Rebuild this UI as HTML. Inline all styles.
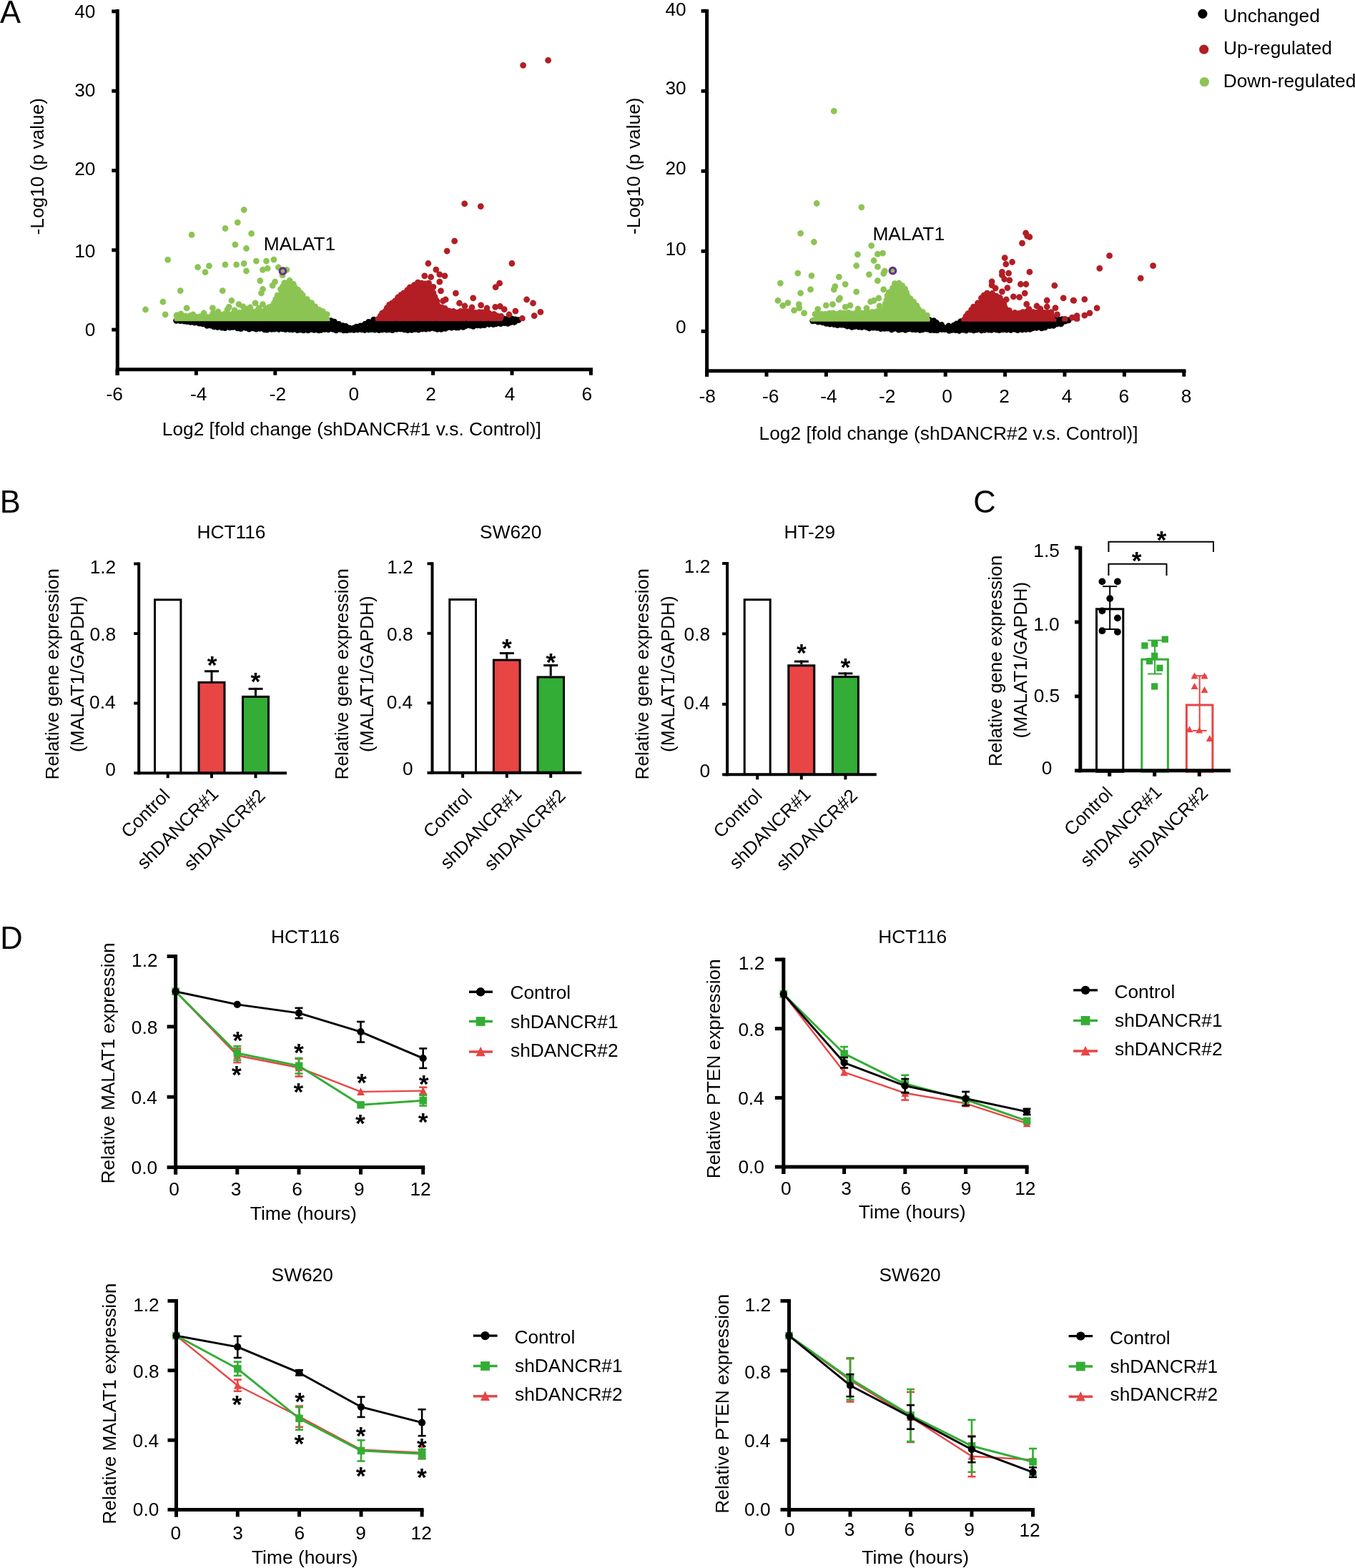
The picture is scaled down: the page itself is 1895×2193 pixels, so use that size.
<!DOCTYPE html>
<html><head><meta charset="utf-8"><title>Figure</title>
<style>
html,body{margin:0;padding:0;background:#fff;}
svg{display:block;}
text{font-family:"Liberation Sans",Arial,Helvetica,sans-serif;font-size:26.3px;fill:#000;}
</style></head><body>
<svg width="1895" height="2193" viewBox="0 0 1895 2193">
<rect width="1895" height="2193" fill="#fff"/>
<text x="-0.1" y="31.9" style="font-size:43.5px">A</text>
<line x1="164.3" y1="13" x2="164.3" y2="524.7" stroke="#000" stroke-width="5"/>
<line x1="161.8" y1="516.7" x2="828.9" y2="516.7" stroke="#000" stroke-width="5"/>
<line x1="156.3" y1="461.1" x2="164.3" y2="461.1" stroke="#000" stroke-width="5"/>
<line x1="156.3" y1="349.8" x2="164.3" y2="349.8" stroke="#000" stroke-width="5"/>
<line x1="156.3" y1="238.5" x2="164.3" y2="238.5" stroke="#000" stroke-width="5"/>
<line x1="156.3" y1="127.2" x2="164.3" y2="127.2" stroke="#000" stroke-width="5"/>
<line x1="156.3" y1="15.9" x2="164.3" y2="15.9" stroke="#000" stroke-width="5"/>
<line x1="164" y1="516.7" x2="164" y2="524.7" stroke="#000" stroke-width="5"/>
<line x1="274.4" y1="516.7" x2="274.4" y2="524.7" stroke="#000" stroke-width="5"/>
<line x1="384.8" y1="516.7" x2="384.8" y2="524.7" stroke="#000" stroke-width="5"/>
<line x1="495.2" y1="516.7" x2="495.2" y2="524.7" stroke="#000" stroke-width="5"/>
<line x1="605.6" y1="516.7" x2="605.6" y2="524.7" stroke="#000" stroke-width="5"/>
<line x1="716" y1="516.7" x2="716" y2="524.7" stroke="#000" stroke-width="5"/>
<line x1="826.4" y1="516.7" x2="826.4" y2="524.7" stroke="#000" stroke-width="5"/>
<text x="104.2" y="25">40</text>
<text x="104.2" y="135.2">30</text>
<text x="104.2" y="245.2">20</text>
<text x="104.2" y="360.2">10</text>
<text x="118.8" y="470.4">0</text>
<text x="148.5" y="560.2">-6</text>
<text x="265.9" y="560.2">-4</text>
<text x="376.8" y="560.4">-2</text>
<text x="487.6" y="560.2">0</text>
<text x="595.2" y="560.4">2</text>
<text x="705.8" y="560.2">4</text>
<text x="813.5" y="560.2">6</text>
<text x="226.8" y="609.3" style="font-size:26.3px">Log2 [fold change (shDANCR#1 v.s. Control)]</text>
<text x="61.3" y="328.4" transform="rotate(-90 61.3 328.4)">-Log10 (p value)</text>
<line x1="988.6" y1="13" x2="988.6" y2="526.7" stroke="#000" stroke-width="5"/>
<line x1="986.1" y1="518.7" x2="1658.5" y2="518.7" stroke="#000" stroke-width="5"/>
<line x1="980.6" y1="463.3" x2="988.6" y2="463.3" stroke="#000" stroke-width="5"/>
<line x1="980.6" y1="351.3" x2="988.6" y2="351.3" stroke="#000" stroke-width="5"/>
<line x1="980.6" y1="239.3" x2="988.6" y2="239.3" stroke="#000" stroke-width="5"/>
<line x1="980.6" y1="127.3" x2="988.6" y2="127.3" stroke="#000" stroke-width="5"/>
<line x1="980.6" y1="15.3" x2="988.6" y2="15.3" stroke="#000" stroke-width="5"/>
<line x1="988.6" y1="518.7" x2="988.6" y2="526.7" stroke="#000" stroke-width="5"/>
<line x1="1072" y1="518.7" x2="1072" y2="526.7" stroke="#000" stroke-width="5"/>
<line x1="1155.4" y1="518.7" x2="1155.4" y2="526.7" stroke="#000" stroke-width="5"/>
<line x1="1238.8" y1="518.7" x2="1238.8" y2="526.7" stroke="#000" stroke-width="5"/>
<line x1="1322.2" y1="518.7" x2="1322.2" y2="526.7" stroke="#000" stroke-width="5"/>
<line x1="1405.6" y1="518.7" x2="1405.6" y2="526.7" stroke="#000" stroke-width="5"/>
<line x1="1489" y1="518.7" x2="1489" y2="526.7" stroke="#000" stroke-width="5"/>
<line x1="1572.4" y1="518.7" x2="1572.4" y2="526.7" stroke="#000" stroke-width="5"/>
<line x1="1655.8" y1="518.7" x2="1655.8" y2="526.7" stroke="#000" stroke-width="5"/>
<text x="930.4" y="21.8">40</text>
<text x="930.4" y="131.8">30</text>
<text x="930.4" y="244.2">20</text>
<text x="930.4" y="356.6">10</text>
<text x="945" y="466.2">0</text>
<text x="977.5" y="562.6">-8</text>
<text x="1065.9" y="562.6">-6</text>
<text x="1147.3" y="562.6">-4</text>
<text x="1228.9" y="562.8">-2</text>
<text x="1317.2" y="562.6">0</text>
<text x="1397.2" y="562.8">2</text>
<text x="1484.8" y="562.6">4</text>
<text x="1564.6" y="562.6">6</text>
<text x="1651.7" y="562.6">8</text>
<text x="1061.6" y="614.6" style="font-size:26.3px">Log2 [fold change (shDANCR#2 v.s. Control)]</text>
<text x="894.8" y="327.9" transform="rotate(-90 894.8 327.9)">-Log10 (p value)</text>
<polygon points="247,449 463,448 479,455 494,459.5 510,454 523,447 700,446 720,446 724,448 720,451 700,452 667,455 617,459.5 560,461 400,461 354,459.5 310,457.5 295,455.5 262,450" fill="#000"/>
<path fill="#000" d="M242.2 448.3a4.4 4.4 0 1 0 8.8 0a4.4 4.4 0 1 0 -8.8 0M247.9 448.1a4.4 4.4 0 1 0 8.8 0a4.4 4.4 0 1 0 -8.8 0M252.7 448.7a4.4 4.4 0 1 0 8.8 0a4.4 4.4 0 1 0 -8.8 0M256.8 448.9a4.4 4.4 0 1 0 8.8 0a4.4 4.4 0 1 0 -8.8 0M261.8 448.8a4.4 4.4 0 1 0 8.8 0a4.4 4.4 0 1 0 -8.8 0M266.9 448.1a4.4 4.4 0 1 0 8.8 0a4.4 4.4 0 1 0 -8.8 0M272.6 449.5a4.4 4.4 0 1 0 8.8 0a4.4 4.4 0 1 0 -8.8 0M277 448.3a4.4 4.4 0 1 0 8.8 0a4.4 4.4 0 1 0 -8.8 0M283 449.7a4.4 4.4 0 1 0 8.8 0a4.4 4.4 0 1 0 -8.8 0M288 448.6a4.4 4.4 0 1 0 8.8 0a4.4 4.4 0 1 0 -8.8 0M293.8 447.9a4.4 4.4 0 1 0 8.8 0a4.4 4.4 0 1 0 -8.8 0M298.6 448.3a4.4 4.4 0 1 0 8.8 0a4.4 4.4 0 1 0 -8.8 0M302.2 448a4.4 4.4 0 1 0 8.8 0a4.4 4.4 0 1 0 -8.8 0M307.5 449.3a4.4 4.4 0 1 0 8.8 0a4.4 4.4 0 1 0 -8.8 0M312.3 448.8a4.4 4.4 0 1 0 8.8 0a4.4 4.4 0 1 0 -8.8 0M318.2 448.4a4.4 4.4 0 1 0 8.8 0a4.4 4.4 0 1 0 -8.8 0M323.1 447.8a4.4 4.4 0 1 0 8.8 0a4.4 4.4 0 1 0 -8.8 0M327.1 448a4.4 4.4 0 1 0 8.8 0a4.4 4.4 0 1 0 -8.8 0M333.4 448.4a4.4 4.4 0 1 0 8.8 0a4.4 4.4 0 1 0 -8.8 0M337.7 448.7a4.4 4.4 0 1 0 8.8 0a4.4 4.4 0 1 0 -8.8 0M343 448.1a4.4 4.4 0 1 0 8.8 0a4.4 4.4 0 1 0 -8.8 0M348.7 448.9a4.4 4.4 0 1 0 8.8 0a4.4 4.4 0 1 0 -8.8 0M352.6 448.6a4.4 4.4 0 1 0 8.8 0a4.4 4.4 0 1 0 -8.8 0M358.2 449.2a4.4 4.4 0 1 0 8.8 0a4.4 4.4 0 1 0 -8.8 0M363.6 448a4.4 4.4 0 1 0 8.8 0a4.4 4.4 0 1 0 -8.8 0M369.1 447.7a4.4 4.4 0 1 0 8.8 0a4.4 4.4 0 1 0 -8.8 0M373 448.9a4.4 4.4 0 1 0 8.8 0a4.4 4.4 0 1 0 -8.8 0M377.5 448.4a4.4 4.4 0 1 0 8.8 0a4.4 4.4 0 1 0 -8.8 0M382.3 448.7a4.4 4.4 0 1 0 8.8 0a4.4 4.4 0 1 0 -8.8 0M388.8 448.5a4.4 4.4 0 1 0 8.8 0a4.4 4.4 0 1 0 -8.8 0M394 447.9a4.4 4.4 0 1 0 8.8 0a4.4 4.4 0 1 0 -8.8 0M398.7 448.5a4.4 4.4 0 1 0 8.8 0a4.4 4.4 0 1 0 -8.8 0M403.5 448.2a4.4 4.4 0 1 0 8.8 0a4.4 4.4 0 1 0 -8.8 0M409 449.1a4.4 4.4 0 1 0 8.8 0a4.4 4.4 0 1 0 -8.8 0M413.3 448.5a4.4 4.4 0 1 0 8.8 0a4.4 4.4 0 1 0 -8.8 0M417.5 448.6a4.4 4.4 0 1 0 8.8 0a4.4 4.4 0 1 0 -8.8 0M423.7 449.1a4.4 4.4 0 1 0 8.8 0a4.4 4.4 0 1 0 -8.8 0M429.1 447.7a4.4 4.4 0 1 0 8.8 0a4.4 4.4 0 1 0 -8.8 0M433.3 448.5a4.4 4.4 0 1 0 8.8 0a4.4 4.4 0 1 0 -8.8 0M437.6 448a4.4 4.4 0 1 0 8.8 0a4.4 4.4 0 1 0 -8.8 0M442.9 447.3a4.4 4.4 0 1 0 8.8 0a4.4 4.4 0 1 0 -8.8 0M447.7 448.6a4.4 4.4 0 1 0 8.8 0a4.4 4.4 0 1 0 -8.8 0M452.8 447.5a4.4 4.4 0 1 0 8.8 0a4.4 4.4 0 1 0 -8.8 0M458.4 448.7a4.4 4.4 0 1 0 8.8 0a4.4 4.4 0 1 0 -8.8 0M463.1 450.2a4.4 4.4 0 1 0 8.8 0a4.4 4.4 0 1 0 -8.8 0M469.4 453.4a4.4 4.4 0 1 0 8.8 0a4.4 4.4 0 1 0 -8.8 0M475.2 455.7a4.4 4.4 0 1 0 8.8 0a4.4 4.4 0 1 0 -8.8 0M479.2 456.3a4.4 4.4 0 1 0 8.8 0a4.4 4.4 0 1 0 -8.8 0M484.3 458.8a4.4 4.4 0 1 0 8.8 0a4.4 4.4 0 1 0 -8.8 0M490.5 458.8a4.4 4.4 0 1 0 8.8 0a4.4 4.4 0 1 0 -8.8 0M494.3 457.1a4.4 4.4 0 1 0 8.8 0a4.4 4.4 0 1 0 -8.8 0M499.7 455.8a4.4 4.4 0 1 0 8.8 0a4.4 4.4 0 1 0 -8.8 0M505.8 453.5a4.4 4.4 0 1 0 8.8 0a4.4 4.4 0 1 0 -8.8 0M511.1 450.3a4.4 4.4 0 1 0 8.8 0a4.4 4.4 0 1 0 -8.8 0M518.3 447.1a4.4 4.4 0 1 0 8.8 0a4.4 4.4 0 1 0 -8.8 0M524.6 447.4a4.4 4.4 0 1 0 8.8 0a4.4 4.4 0 1 0 -8.8 0M528.7 447.2a4.4 4.4 0 1 0 8.8 0a4.4 4.4 0 1 0 -8.8 0M534.1 446a4.4 4.4 0 1 0 8.8 0a4.4 4.4 0 1 0 -8.8 0M539.6 447.4a4.4 4.4 0 1 0 8.8 0a4.4 4.4 0 1 0 -8.8 0M544.6 447.5a4.4 4.4 0 1 0 8.8 0a4.4 4.4 0 1 0 -8.8 0M548.7 446.6a4.4 4.4 0 1 0 8.8 0a4.4 4.4 0 1 0 -8.8 0M553.2 447.1a4.4 4.4 0 1 0 8.8 0a4.4 4.4 0 1 0 -8.8 0M558.2 445.9a4.4 4.4 0 1 0 8.8 0a4.4 4.4 0 1 0 -8.8 0M563.5 446.1a4.4 4.4 0 1 0 8.8 0a4.4 4.4 0 1 0 -8.8 0M568.9 445.8a4.4 4.4 0 1 0 8.8 0a4.4 4.4 0 1 0 -8.8 0M573.2 446a4.4 4.4 0 1 0 8.8 0a4.4 4.4 0 1 0 -8.8 0M578.5 446.4a4.4 4.4 0 1 0 8.8 0a4.4 4.4 0 1 0 -8.8 0M583.4 447.4a4.4 4.4 0 1 0 8.8 0a4.4 4.4 0 1 0 -8.8 0M589.6 445.9a4.4 4.4 0 1 0 8.8 0a4.4 4.4 0 1 0 -8.8 0M594 446.3a4.4 4.4 0 1 0 8.8 0a4.4 4.4 0 1 0 -8.8 0M599.2 445.8a4.4 4.4 0 1 0 8.8 0a4.4 4.4 0 1 0 -8.8 0M605.3 447.5a4.4 4.4 0 1 0 8.8 0a4.4 4.4 0 1 0 -8.8 0M609.6 446.5a4.4 4.4 0 1 0 8.8 0a4.4 4.4 0 1 0 -8.8 0M613.9 445.7a4.4 4.4 0 1 0 8.8 0a4.4 4.4 0 1 0 -8.8 0M619.4 446a4.4 4.4 0 1 0 8.8 0a4.4 4.4 0 1 0 -8.8 0M625.5 445.7a4.4 4.4 0 1 0 8.8 0a4.4 4.4 0 1 0 -8.8 0M628.9 447.3a4.4 4.4 0 1 0 8.8 0a4.4 4.4 0 1 0 -8.8 0M635 445.6a4.4 4.4 0 1 0 8.8 0a4.4 4.4 0 1 0 -8.8 0M640.1 445.4a4.4 4.4 0 1 0 8.8 0a4.4 4.4 0 1 0 -8.8 0M645.1 447.2a4.4 4.4 0 1 0 8.8 0a4.4 4.4 0 1 0 -8.8 0M650.8 446.6a4.4 4.4 0 1 0 8.8 0a4.4 4.4 0 1 0 -8.8 0M654.7 446a4.4 4.4 0 1 0 8.8 0a4.4 4.4 0 1 0 -8.8 0M659.5 446.7a4.4 4.4 0 1 0 8.8 0a4.4 4.4 0 1 0 -8.8 0M665.3 446.7a4.4 4.4 0 1 0 8.8 0a4.4 4.4 0 1 0 -8.8 0M670 445.6a4.4 4.4 0 1 0 8.8 0a4.4 4.4 0 1 0 -8.8 0M676 447.1a4.4 4.4 0 1 0 8.8 0a4.4 4.4 0 1 0 -8.8 0M681.1 446.7a4.4 4.4 0 1 0 8.8 0a4.4 4.4 0 1 0 -8.8 0M686.1 446.5a4.4 4.4 0 1 0 8.8 0a4.4 4.4 0 1 0 -8.8 0M690 446.1a4.4 4.4 0 1 0 8.8 0a4.4 4.4 0 1 0 -8.8 0M695.3 445.1a4.4 4.4 0 1 0 8.8 0a4.4 4.4 0 1 0 -8.8 0M699.7 445.6a4.4 4.4 0 1 0 8.8 0a4.4 4.4 0 1 0 -8.8 0M705.1 446.4a4.4 4.4 0 1 0 8.8 0a4.4 4.4 0 1 0 -8.8 0M711.5 445.9a4.4 4.4 0 1 0 8.8 0a4.4 4.4 0 1 0 -8.8 0M716.5 447a4.4 4.4 0 1 0 8.8 0a4.4 4.4 0 1 0 -8.8 0M720.5 447.7a4.4 4.4 0 1 0 8.8 0a4.4 4.4 0 1 0 -8.8 0M715 450.5a4.4 4.4 0 1 0 8.8 0a4.4 4.4 0 1 0 -8.8 0M710 450.7a4.4 4.4 0 1 0 8.8 0a4.4 4.4 0 1 0 -8.8 0M705.8 452.3a4.4 4.4 0 1 0 8.8 0a4.4 4.4 0 1 0 -8.8 0M701.3 451.7a4.4 4.4 0 1 0 8.8 0a4.4 4.4 0 1 0 -8.8 0M695.9 452.6a4.4 4.4 0 1 0 8.8 0a4.4 4.4 0 1 0 -8.8 0M689.3 452.8a4.4 4.4 0 1 0 8.8 0a4.4 4.4 0 1 0 -8.8 0M685.4 453.6a4.4 4.4 0 1 0 8.8 0a4.4 4.4 0 1 0 -8.8 0M679.6 453.5a4.4 4.4 0 1 0 8.8 0a4.4 4.4 0 1 0 -8.8 0M673 454.6a4.4 4.4 0 1 0 8.8 0a4.4 4.4 0 1 0 -8.8 0M667.8 455.1a4.4 4.4 0 1 0 8.8 0a4.4 4.4 0 1 0 -8.8 0M663.5 454.8a4.4 4.4 0 1 0 8.8 0a4.4 4.4 0 1 0 -8.8 0M657.4 456.3a4.4 4.4 0 1 0 8.8 0a4.4 4.4 0 1 0 -8.8 0M653 455.2a4.4 4.4 0 1 0 8.8 0a4.4 4.4 0 1 0 -8.8 0M646.9 455.7a4.4 4.4 0 1 0 8.8 0a4.4 4.4 0 1 0 -8.8 0M643.4 457.4a4.4 4.4 0 1 0 8.8 0a4.4 4.4 0 1 0 -8.8 0M636.9 457.9a4.4 4.4 0 1 0 8.8 0a4.4 4.4 0 1 0 -8.8 0M633.6 458a4.4 4.4 0 1 0 8.8 0a4.4 4.4 0 1 0 -8.8 0M627.3 458.2a4.4 4.4 0 1 0 8.8 0a4.4 4.4 0 1 0 -8.8 0M621.9 457.6a4.4 4.4 0 1 0 8.8 0a4.4 4.4 0 1 0 -8.8 0M618.5 459.3a4.4 4.4 0 1 0 8.8 0a4.4 4.4 0 1 0 -8.8 0M612.7 460.4a4.4 4.4 0 1 0 8.8 0a4.4 4.4 0 1 0 -8.8 0M607.3 460.4a4.4 4.4 0 1 0 8.8 0a4.4 4.4 0 1 0 -8.8 0M602.9 459.2a4.4 4.4 0 1 0 8.8 0a4.4 4.4 0 1 0 -8.8 0M596.6 459.5a4.4 4.4 0 1 0 8.8 0a4.4 4.4 0 1 0 -8.8 0M591.4 460.2a4.4 4.4 0 1 0 8.8 0a4.4 4.4 0 1 0 -8.8 0M586.2 460a4.4 4.4 0 1 0 8.8 0a4.4 4.4 0 1 0 -8.8 0M580.8 461.1a4.4 4.4 0 1 0 8.8 0a4.4 4.4 0 1 0 -8.8 0M576 460.4a4.4 4.4 0 1 0 8.8 0a4.4 4.4 0 1 0 -8.8 0M571.3 461.4a4.4 4.4 0 1 0 8.8 0a4.4 4.4 0 1 0 -8.8 0M565.8 461.6a4.4 4.4 0 1 0 8.8 0a4.4 4.4 0 1 0 -8.8 0M560.8 460.9a4.4 4.4 0 1 0 8.8 0a4.4 4.4 0 1 0 -8.8 0M555.6 460a4.4 4.4 0 1 0 8.8 0a4.4 4.4 0 1 0 -8.8 0M550.5 460.4a4.4 4.4 0 1 0 8.8 0a4.4 4.4 0 1 0 -8.8 0M544.6 461.6a4.4 4.4 0 1 0 8.8 0a4.4 4.4 0 1 0 -8.8 0M539.9 460.9a4.4 4.4 0 1 0 8.8 0a4.4 4.4 0 1 0 -8.8 0M536.1 461.1a4.4 4.4 0 1 0 8.8 0a4.4 4.4 0 1 0 -8.8 0M530.3 461a4.4 4.4 0 1 0 8.8 0a4.4 4.4 0 1 0 -8.8 0M525.7 461.6a4.4 4.4 0 1 0 8.8 0a4.4 4.4 0 1 0 -8.8 0M519.8 461.1a4.4 4.4 0 1 0 8.8 0a4.4 4.4 0 1 0 -8.8 0M515.1 460.6a4.4 4.4 0 1 0 8.8 0a4.4 4.4 0 1 0 -8.8 0M511.1 461a4.4 4.4 0 1 0 8.8 0a4.4 4.4 0 1 0 -8.8 0M505.7 461.5a4.4 4.4 0 1 0 8.8 0a4.4 4.4 0 1 0 -8.8 0M501.4 460.9a4.4 4.4 0 1 0 8.8 0a4.4 4.4 0 1 0 -8.8 0M495.8 461a4.4 4.4 0 1 0 8.8 0a4.4 4.4 0 1 0 -8.8 0M490.6 461.4a4.4 4.4 0 1 0 8.8 0a4.4 4.4 0 1 0 -8.8 0M485.5 461.1a4.4 4.4 0 1 0 8.8 0a4.4 4.4 0 1 0 -8.8 0M480.6 461.9a4.4 4.4 0 1 0 8.8 0a4.4 4.4 0 1 0 -8.8 0M476 461.8a4.4 4.4 0 1 0 8.8 0a4.4 4.4 0 1 0 -8.8 0M471.5 460.5a4.4 4.4 0 1 0 8.8 0a4.4 4.4 0 1 0 -8.8 0M465.7 461.9a4.4 4.4 0 1 0 8.8 0a4.4 4.4 0 1 0 -8.8 0M461.3 460.3a4.4 4.4 0 1 0 8.8 0a4.4 4.4 0 1 0 -8.8 0M454.8 460.9a4.4 4.4 0 1 0 8.8 0a4.4 4.4 0 1 0 -8.8 0M449.7 460.5a4.4 4.4 0 1 0 8.8 0a4.4 4.4 0 1 0 -8.8 0M444.7 461.3a4.4 4.4 0 1 0 8.8 0a4.4 4.4 0 1 0 -8.8 0M441.2 461.8a4.4 4.4 0 1 0 8.8 0a4.4 4.4 0 1 0 -8.8 0M434.9 461.4a4.4 4.4 0 1 0 8.8 0a4.4 4.4 0 1 0 -8.8 0M430.9 460.3a4.4 4.4 0 1 0 8.8 0a4.4 4.4 0 1 0 -8.8 0M426.4 461.9a4.4 4.4 0 1 0 8.8 0a4.4 4.4 0 1 0 -8.8 0M420 461.9a4.4 4.4 0 1 0 8.8 0a4.4 4.4 0 1 0 -8.8 0M415.4 461a4.4 4.4 0 1 0 8.8 0a4.4 4.4 0 1 0 -8.8 0M411.6 461.7a4.4 4.4 0 1 0 8.8 0a4.4 4.4 0 1 0 -8.8 0M404.9 460.9a4.4 4.4 0 1 0 8.8 0a4.4 4.4 0 1 0 -8.8 0M400.6 460.7a4.4 4.4 0 1 0 8.8 0a4.4 4.4 0 1 0 -8.8 0M395 460.6a4.4 4.4 0 1 0 8.8 0a4.4 4.4 0 1 0 -8.8 0M390.9 459.9a4.4 4.4 0 1 0 8.8 0a4.4 4.4 0 1 0 -8.8 0M385.5 460.5a4.4 4.4 0 1 0 8.8 0a4.4 4.4 0 1 0 -8.8 0M379.3 460.2a4.4 4.4 0 1 0 8.8 0a4.4 4.4 0 1 0 -8.8 0M375.4 460.4a4.4 4.4 0 1 0 8.8 0a4.4 4.4 0 1 0 -8.8 0M369.2 461.1a4.4 4.4 0 1 0 8.8 0a4.4 4.4 0 1 0 -8.8 0M365.5 460.9a4.4 4.4 0 1 0 8.8 0a4.4 4.4 0 1 0 -8.8 0M359 459.4a4.4 4.4 0 1 0 8.8 0a4.4 4.4 0 1 0 -8.8 0M353.8 460.2a4.4 4.4 0 1 0 8.8 0a4.4 4.4 0 1 0 -8.8 0M349.1 458.8a4.4 4.4 0 1 0 8.8 0a4.4 4.4 0 1 0 -8.8 0M343.9 460.1a4.4 4.4 0 1 0 8.8 0a4.4 4.4 0 1 0 -8.8 0M339.2 458.5a4.4 4.4 0 1 0 8.8 0a4.4 4.4 0 1 0 -8.8 0M332.4 459.6a4.4 4.4 0 1 0 8.8 0a4.4 4.4 0 1 0 -8.8 0M327.7 458.9a4.4 4.4 0 1 0 8.8 0a4.4 4.4 0 1 0 -8.8 0M321.3 457.4a4.4 4.4 0 1 0 8.8 0a4.4 4.4 0 1 0 -8.8 0M317 457.9a4.4 4.4 0 1 0 8.8 0a4.4 4.4 0 1 0 -8.8 0M310.2 458.6a4.4 4.4 0 1 0 8.8 0a4.4 4.4 0 1 0 -8.8 0M305.9 458.1a4.4 4.4 0 1 0 8.8 0a4.4 4.4 0 1 0 -8.8 0M299.8 457.5a4.4 4.4 0 1 0 8.8 0a4.4 4.4 0 1 0 -8.8 0M294.7 456.9a4.4 4.4 0 1 0 8.8 0a4.4 4.4 0 1 0 -8.8 0M290.5 455.2a4.4 4.4 0 1 0 8.8 0a4.4 4.4 0 1 0 -8.8 0M285.2 455.4a4.4 4.4 0 1 0 8.8 0a4.4 4.4 0 1 0 -8.8 0M279.1 452.9a4.4 4.4 0 1 0 8.8 0a4.4 4.4 0 1 0 -8.8 0M274.2 452.2a4.4 4.4 0 1 0 8.8 0a4.4 4.4 0 1 0 -8.8 0M267.8 451.2a4.4 4.4 0 1 0 8.8 0a4.4 4.4 0 1 0 -8.8 0M262.2 450.3a4.4 4.4 0 1 0 8.8 0a4.4 4.4 0 1 0 -8.8 0M257.2 449.6a4.4 4.4 0 1 0 8.8 0a4.4 4.4 0 1 0 -8.8 0M253.1 449.2a4.4 4.4 0 1 0 8.8 0a4.4 4.4 0 1 0 -8.8 0M247.6 448.7a4.4 4.4 0 1 0 8.8 0a4.4 4.4 0 1 0 -8.8 0"/>
<clipPath id="cA1"><rect x="0" y="0" width="900" height="449.3"/></clipPath>
<g clip-path="url(#cA1)">
<polygon points="248,447 250,442 290,443 310,440 340,437 360,435 380,435 384,425 388,413 392,404 398,396 404,393 410,397 416,405 424,413 435,423 446,433 458,440 458,447" fill="#8cc454"/>
<path fill="#8cc454" d="M243.3 446a4.4 4.4 0 1 0 8.8 0a4.4 4.4 0 1 0 -8.8 0M245.1 441a4.4 4.4 0 1 0 8.8 0a4.4 4.4 0 1 0 -8.8 0M251.1 442.2a4.4 4.4 0 1 0 8.8 0a4.4 4.4 0 1 0 -8.8 0M255 442.2a4.4 4.4 0 1 0 8.8 0a4.4 4.4 0 1 0 -8.8 0M261.5 441.6a4.4 4.4 0 1 0 8.8 0a4.4 4.4 0 1 0 -8.8 0M266.2 442.4a4.4 4.4 0 1 0 8.8 0a4.4 4.4 0 1 0 -8.8 0M270.6 443.3a4.4 4.4 0 1 0 8.8 0a4.4 4.4 0 1 0 -8.8 0M275.4 442.8a4.4 4.4 0 1 0 8.8 0a4.4 4.4 0 1 0 -8.8 0M281 443.8a4.4 4.4 0 1 0 8.8 0a4.4 4.4 0 1 0 -8.8 0M285.3 443.7a4.4 4.4 0 1 0 8.8 0a4.4 4.4 0 1 0 -8.8 0M291 442.5a4.4 4.4 0 1 0 8.8 0a4.4 4.4 0 1 0 -8.8 0M295.4 441.2a4.4 4.4 0 1 0 8.8 0a4.4 4.4 0 1 0 -8.8 0M299.7 440a4.4 4.4 0 1 0 8.8 0a4.4 4.4 0 1 0 -8.8 0M304.7 440.5a4.4 4.4 0 1 0 8.8 0a4.4 4.4 0 1 0 -8.8 0M310.1 438.8a4.4 4.4 0 1 0 8.8 0a4.4 4.4 0 1 0 -8.8 0M314.8 439.7a4.4 4.4 0 1 0 8.8 0a4.4 4.4 0 1 0 -8.8 0M321.3 438.8a4.4 4.4 0 1 0 8.8 0a4.4 4.4 0 1 0 -8.8 0M325.2 437.5a4.4 4.4 0 1 0 8.8 0a4.4 4.4 0 1 0 -8.8 0M330.2 437.4a4.4 4.4 0 1 0 8.8 0a4.4 4.4 0 1 0 -8.8 0M334.9 436.9a4.4 4.4 0 1 0 8.8 0a4.4 4.4 0 1 0 -8.8 0M340.1 437.4a4.4 4.4 0 1 0 8.8 0a4.4 4.4 0 1 0 -8.8 0M346.5 436.1a4.4 4.4 0 1 0 8.8 0a4.4 4.4 0 1 0 -8.8 0M350.1 436.4a4.4 4.4 0 1 0 8.8 0a4.4 4.4 0 1 0 -8.8 0M355.2 434.7a4.4 4.4 0 1 0 8.8 0a4.4 4.4 0 1 0 -8.8 0M359.6 434.8a4.4 4.4 0 1 0 8.8 0a4.4 4.4 0 1 0 -8.8 0M365.5 435a4.4 4.4 0 1 0 8.8 0a4.4 4.4 0 1 0 -8.8 0M370 435a4.4 4.4 0 1 0 8.8 0a4.4 4.4 0 1 0 -8.8 0M374.6 434.5a4.4 4.4 0 1 0 8.8 0a4.4 4.4 0 1 0 -8.8 0M376.8 429.8a4.4 4.4 0 1 0 8.8 0a4.4 4.4 0 1 0 -8.8 0M378.7 424a4.4 4.4 0 1 0 8.8 0a4.4 4.4 0 1 0 -8.8 0M381.2 418.5a4.4 4.4 0 1 0 8.8 0a4.4 4.4 0 1 0 -8.8 0M383.8 413.1a4.4 4.4 0 1 0 8.8 0a4.4 4.4 0 1 0 -8.8 0M388.1 404.3a4.4 4.4 0 1 0 8.8 0a4.4 4.4 0 1 0 -8.8 0M391 400.8a4.4 4.4 0 1 0 8.8 0a4.4 4.4 0 1 0 -8.8 0M393.4 395.7a4.4 4.4 0 1 0 8.8 0a4.4 4.4 0 1 0 -8.8 0M400.6 392.3a4.4 4.4 0 1 0 8.8 0a4.4 4.4 0 1 0 -8.8 0M406 397.3a4.4 4.4 0 1 0 8.8 0a4.4 4.4 0 1 0 -8.8 0M407.7 401.7a4.4 4.4 0 1 0 8.8 0a4.4 4.4 0 1 0 -8.8 0M412.4 405.3a4.4 4.4 0 1 0 8.8 0a4.4 4.4 0 1 0 -8.8 0M416.1 409.6a4.4 4.4 0 1 0 8.8 0a4.4 4.4 0 1 0 -8.8 0M418.9 413a4.4 4.4 0 1 0 8.8 0a4.4 4.4 0 1 0 -8.8 0M425.1 418.7a4.4 4.4 0 1 0 8.8 0a4.4 4.4 0 1 0 -8.8 0M431.2 423.7a4.4 4.4 0 1 0 8.8 0a4.4 4.4 0 1 0 -8.8 0M436.3 428.8a4.4 4.4 0 1 0 8.8 0a4.4 4.4 0 1 0 -8.8 0M442 433.4a4.4 4.4 0 1 0 8.8 0a4.4 4.4 0 1 0 -8.8 0M447.1 435.6a4.4 4.4 0 1 0 8.8 0a4.4 4.4 0 1 0 -8.8 0M452.9 439.7a4.4 4.4 0 1 0 8.8 0a4.4 4.4 0 1 0 -8.8 0M452.8 447.7a4.4 4.4 0 1 0 8.8 0a4.4 4.4 0 1 0 -8.8 0M448.7 447.3a4.4 4.4 0 1 0 8.8 0a4.4 4.4 0 1 0 -8.8 0M443.9 447.4a4.4 4.4 0 1 0 8.8 0a4.4 4.4 0 1 0 -8.8 0M438.6 446a4.4 4.4 0 1 0 8.8 0a4.4 4.4 0 1 0 -8.8 0M434.2 447.5a4.4 4.4 0 1 0 8.8 0a4.4 4.4 0 1 0 -8.8 0M428.6 447.1a4.4 4.4 0 1 0 8.8 0a4.4 4.4 0 1 0 -8.8 0M423.9 446.1a4.4 4.4 0 1 0 8.8 0a4.4 4.4 0 1 0 -8.8 0M419.1 446.5a4.4 4.4 0 1 0 8.8 0a4.4 4.4 0 1 0 -8.8 0M412.7 446.5a4.4 4.4 0 1 0 8.8 0a4.4 4.4 0 1 0 -8.8 0M409.1 446.4a4.4 4.4 0 1 0 8.8 0a4.4 4.4 0 1 0 -8.8 0M404.1 448a4.4 4.4 0 1 0 8.8 0a4.4 4.4 0 1 0 -8.8 0M398.6 446.8a4.4 4.4 0 1 0 8.8 0a4.4 4.4 0 1 0 -8.8 0M393.6 447.4a4.4 4.4 0 1 0 8.8 0a4.4 4.4 0 1 0 -8.8 0M389.1 447.2a4.4 4.4 0 1 0 8.8 0a4.4 4.4 0 1 0 -8.8 0M383.9 446.2a4.4 4.4 0 1 0 8.8 0a4.4 4.4 0 1 0 -8.8 0M377.9 446.5a4.4 4.4 0 1 0 8.8 0a4.4 4.4 0 1 0 -8.8 0M374.1 446.6a4.4 4.4 0 1 0 8.8 0a4.4 4.4 0 1 0 -8.8 0M368.7 446a4.4 4.4 0 1 0 8.8 0a4.4 4.4 0 1 0 -8.8 0M362.7 446.5a4.4 4.4 0 1 0 8.8 0a4.4 4.4 0 1 0 -8.8 0M358.9 447.4a4.4 4.4 0 1 0 8.8 0a4.4 4.4 0 1 0 -8.8 0M354 446.6a4.4 4.4 0 1 0 8.8 0a4.4 4.4 0 1 0 -8.8 0M348.6 446.9a4.4 4.4 0 1 0 8.8 0a4.4 4.4 0 1 0 -8.8 0M343.5 446.2a4.4 4.4 0 1 0 8.8 0a4.4 4.4 0 1 0 -8.8 0M339.4 446.4a4.4 4.4 0 1 0 8.8 0a4.4 4.4 0 1 0 -8.8 0M334.6 447.9a4.4 4.4 0 1 0 8.8 0a4.4 4.4 0 1 0 -8.8 0M327.6 446.9a4.4 4.4 0 1 0 8.8 0a4.4 4.4 0 1 0 -8.8 0M324.2 447.9a4.4 4.4 0 1 0 8.8 0a4.4 4.4 0 1 0 -8.8 0M318.5 446.5a4.4 4.4 0 1 0 8.8 0a4.4 4.4 0 1 0 -8.8 0M313 447.9a4.4 4.4 0 1 0 8.8 0a4.4 4.4 0 1 0 -8.8 0M308 447.2a4.4 4.4 0 1 0 8.8 0a4.4 4.4 0 1 0 -8.8 0M302.9 447a4.4 4.4 0 1 0 8.8 0a4.4 4.4 0 1 0 -8.8 0M299.5 446.3a4.4 4.4 0 1 0 8.8 0a4.4 4.4 0 1 0 -8.8 0M294.2 447a4.4 4.4 0 1 0 8.8 0a4.4 4.4 0 1 0 -8.8 0M289.4 447.4a4.4 4.4 0 1 0 8.8 0a4.4 4.4 0 1 0 -8.8 0M283.1 447.8a4.4 4.4 0 1 0 8.8 0a4.4 4.4 0 1 0 -8.8 0M278.6 446a4.4 4.4 0 1 0 8.8 0a4.4 4.4 0 1 0 -8.8 0M272.6 447a4.4 4.4 0 1 0 8.8 0a4.4 4.4 0 1 0 -8.8 0M268.5 446.6a4.4 4.4 0 1 0 8.8 0a4.4 4.4 0 1 0 -8.8 0M262.9 446.7a4.4 4.4 0 1 0 8.8 0a4.4 4.4 0 1 0 -8.8 0M258.2 447.7a4.4 4.4 0 1 0 8.8 0a4.4 4.4 0 1 0 -8.8 0M252.6 447.5a4.4 4.4 0 1 0 8.8 0a4.4 4.4 0 1 0 -8.8 0M249.3 446.2a4.4 4.4 0 1 0 8.8 0a4.4 4.4 0 1 0 -8.8 0"/>
<polygon points="528,446 545,427 561,413 573,401 584,396 600,397 605,402 606,410 612,428 634,436 680,437 700,443 700,446" fill="#b21e24"/>
<path fill="#b21e24" d="M524.5 446.4a4.4 4.4 0 1 0 8.8 0a4.4 4.4 0 1 0 -8.8 0M527.8 441.8a4.4 4.4 0 1 0 8.8 0a4.4 4.4 0 1 0 -8.8 0M530.1 438.2a4.4 4.4 0 1 0 8.8 0a4.4 4.4 0 1 0 -8.8 0M534.8 434.8a4.4 4.4 0 1 0 8.8 0a4.4 4.4 0 1 0 -8.8 0M536.9 430.7a4.4 4.4 0 1 0 8.8 0a4.4 4.4 0 1 0 -8.8 0M540.2 426.1a4.4 4.4 0 1 0 8.8 0a4.4 4.4 0 1 0 -8.8 0M543.8 424.2a4.4 4.4 0 1 0 8.8 0a4.4 4.4 0 1 0 -8.8 0M548.2 420.9a4.4 4.4 0 1 0 8.8 0a4.4 4.4 0 1 0 -8.8 0M552.1 416a4.4 4.4 0 1 0 8.8 0a4.4 4.4 0 1 0 -8.8 0M556.6 412.4a4.4 4.4 0 1 0 8.8 0a4.4 4.4 0 1 0 -8.8 0M560.3 409.9a4.4 4.4 0 1 0 8.8 0a4.4 4.4 0 1 0 -8.8 0M565.4 405.6a4.4 4.4 0 1 0 8.8 0a4.4 4.4 0 1 0 -8.8 0M568.9 401.8a4.4 4.4 0 1 0 8.8 0a4.4 4.4 0 1 0 -8.8 0M575 398.6a4.4 4.4 0 1 0 8.8 0a4.4 4.4 0 1 0 -8.8 0M580 395.1a4.4 4.4 0 1 0 8.8 0a4.4 4.4 0 1 0 -8.8 0M585.4 396.2a4.4 4.4 0 1 0 8.8 0a4.4 4.4 0 1 0 -8.8 0M590.8 397a4.4 4.4 0 1 0 8.8 0a4.4 4.4 0 1 0 -8.8 0M595.2 396.1a4.4 4.4 0 1 0 8.8 0a4.4 4.4 0 1 0 -8.8 0M601.5 401.3a4.4 4.4 0 1 0 8.8 0a4.4 4.4 0 1 0 -8.8 0M601.5 409.7a4.4 4.4 0 1 0 8.8 0a4.4 4.4 0 1 0 -8.8 0M603.2 416.5a4.4 4.4 0 1 0 8.8 0a4.4 4.4 0 1 0 -8.8 0M606.6 421.5a4.4 4.4 0 1 0 8.8 0a4.4 4.4 0 1 0 -8.8 0M607.9 427.6a4.4 4.4 0 1 0 8.8 0a4.4 4.4 0 1 0 -8.8 0M613.2 429.8a4.4 4.4 0 1 0 8.8 0a4.4 4.4 0 1 0 -8.8 0M617.9 431.3a4.4 4.4 0 1 0 8.8 0a4.4 4.4 0 1 0 -8.8 0M623.5 434.8a4.4 4.4 0 1 0 8.8 0a4.4 4.4 0 1 0 -8.8 0M629.6 435.4a4.4 4.4 0 1 0 8.8 0a4.4 4.4 0 1 0 -8.8 0M635.5 437.1a4.4 4.4 0 1 0 8.8 0a4.4 4.4 0 1 0 -8.8 0M639.7 435.5a4.4 4.4 0 1 0 8.8 0a4.4 4.4 0 1 0 -8.8 0M644.3 435.5a4.4 4.4 0 1 0 8.8 0a4.4 4.4 0 1 0 -8.8 0M649.7 435.6a4.4 4.4 0 1 0 8.8 0a4.4 4.4 0 1 0 -8.8 0M654.6 436.1a4.4 4.4 0 1 0 8.8 0a4.4 4.4 0 1 0 -8.8 0M660.4 437.4a4.4 4.4 0 1 0 8.8 0a4.4 4.4 0 1 0 -8.8 0M665.9 436.6a4.4 4.4 0 1 0 8.8 0a4.4 4.4 0 1 0 -8.8 0M670.3 436.9a4.4 4.4 0 1 0 8.8 0a4.4 4.4 0 1 0 -8.8 0M675.4 436.7a4.4 4.4 0 1 0 8.8 0a4.4 4.4 0 1 0 -8.8 0M679.7 438.1a4.4 4.4 0 1 0 8.8 0a4.4 4.4 0 1 0 -8.8 0M686.5 439.3a4.4 4.4 0 1 0 8.8 0a4.4 4.4 0 1 0 -8.8 0M690.6 441.8a4.4 4.4 0 1 0 8.8 0a4.4 4.4 0 1 0 -8.8 0M696.3 442.4a4.4 4.4 0 1 0 8.8 0a4.4 4.4 0 1 0 -8.8 0M695.1 445.5a4.4 4.4 0 1 0 8.8 0a4.4 4.4 0 1 0 -8.8 0M690.3 445.9a4.4 4.4 0 1 0 8.8 0a4.4 4.4 0 1 0 -8.8 0M686.4 446.7a4.4 4.4 0 1 0 8.8 0a4.4 4.4 0 1 0 -8.8 0M681.2 445a4.4 4.4 0 1 0 8.8 0a4.4 4.4 0 1 0 -8.8 0M674.4 446.4a4.4 4.4 0 1 0 8.8 0a4.4 4.4 0 1 0 -8.8 0M671.1 445.9a4.4 4.4 0 1 0 8.8 0a4.4 4.4 0 1 0 -8.8 0M665.4 445a4.4 4.4 0 1 0 8.8 0a4.4 4.4 0 1 0 -8.8 0M660 446.9a4.4 4.4 0 1 0 8.8 0a4.4 4.4 0 1 0 -8.8 0M655.8 446.7a4.4 4.4 0 1 0 8.8 0a4.4 4.4 0 1 0 -8.8 0M651 445.5a4.4 4.4 0 1 0 8.8 0a4.4 4.4 0 1 0 -8.8 0M644.2 445.3a4.4 4.4 0 1 0 8.8 0a4.4 4.4 0 1 0 -8.8 0M640 446.4a4.4 4.4 0 1 0 8.8 0a4.4 4.4 0 1 0 -8.8 0M635.8 446.4a4.4 4.4 0 1 0 8.8 0a4.4 4.4 0 1 0 -8.8 0M630.1 446.5a4.4 4.4 0 1 0 8.8 0a4.4 4.4 0 1 0 -8.8 0M624.7 446.1a4.4 4.4 0 1 0 8.8 0a4.4 4.4 0 1 0 -8.8 0M618.8 446.6a4.4 4.4 0 1 0 8.8 0a4.4 4.4 0 1 0 -8.8 0M614.1 446.8a4.4 4.4 0 1 0 8.8 0a4.4 4.4 0 1 0 -8.8 0M609.9 445.6a4.4 4.4 0 1 0 8.8 0a4.4 4.4 0 1 0 -8.8 0M603.8 445.5a4.4 4.4 0 1 0 8.8 0a4.4 4.4 0 1 0 -8.8 0M599.8 446.4a4.4 4.4 0 1 0 8.8 0a4.4 4.4 0 1 0 -8.8 0M593.6 445.1a4.4 4.4 0 1 0 8.8 0a4.4 4.4 0 1 0 -8.8 0M589.4 446.2a4.4 4.4 0 1 0 8.8 0a4.4 4.4 0 1 0 -8.8 0M584.1 445.4a4.4 4.4 0 1 0 8.8 0a4.4 4.4 0 1 0 -8.8 0M579.4 445a4.4 4.4 0 1 0 8.8 0a4.4 4.4 0 1 0 -8.8 0M573.8 445.9a4.4 4.4 0 1 0 8.8 0a4.4 4.4 0 1 0 -8.8 0M570 446.3a4.4 4.4 0 1 0 8.8 0a4.4 4.4 0 1 0 -8.8 0M564.8 446a4.4 4.4 0 1 0 8.8 0a4.4 4.4 0 1 0 -8.8 0M558.5 445.5a4.4 4.4 0 1 0 8.8 0a4.4 4.4 0 1 0 -8.8 0M554.9 446.4a4.4 4.4 0 1 0 8.8 0a4.4 4.4 0 1 0 -8.8 0M548.5 445a4.4 4.4 0 1 0 8.8 0a4.4 4.4 0 1 0 -8.8 0M543.8 446.3a4.4 4.4 0 1 0 8.8 0a4.4 4.4 0 1 0 -8.8 0M538.6 445.5a4.4 4.4 0 1 0 8.8 0a4.4 4.4 0 1 0 -8.8 0M534.1 446.9a4.4 4.4 0 1 0 8.8 0a4.4 4.4 0 1 0 -8.8 0M528.1 445.1a4.4 4.4 0 1 0 8.8 0a4.4 4.4 0 1 0 -8.8 0"/>
<path fill="#8cc454" d="M336.8 293.5a4.4 4.4 0 1 0 8.8 0a4.4 4.4 0 1 0 -8.8 0M327.9 311.1a4.4 4.4 0 1 0 8.8 0a4.4 4.4 0 1 0 -8.8 0M310.6 319.5a4.4 4.4 0 1 0 8.8 0a4.4 4.4 0 1 0 -8.8 0M263.7 328.4a4.4 4.4 0 1 0 8.8 0a4.4 4.4 0 1 0 -8.8 0M347.2 326.7a4.4 4.4 0 1 0 8.8 0a4.4 4.4 0 1 0 -8.8 0M324.5 342.1a4.4 4.4 0 1 0 8.8 0a4.4 4.4 0 1 0 -8.8 0M340.1 347.5a4.4 4.4 0 1 0 8.8 0a4.4 4.4 0 1 0 -8.8 0M230.3 363.4a4.4 4.4 0 1 0 8.8 0a4.4 4.4 0 1 0 -8.8 0M272.2 373.6a4.4 4.4 0 1 0 8.8 0a4.4 4.4 0 1 0 -8.8 0M288 371.8a4.4 4.4 0 1 0 8.8 0a4.4 4.4 0 1 0 -8.8 0M282.6 380.7a4.4 4.4 0 1 0 8.8 0a4.4 4.4 0 1 0 -8.8 0M310.6 370.1a4.4 4.4 0 1 0 8.8 0a4.4 4.4 0 1 0 -8.8 0M326.2 370.1a4.4 4.4 0 1 0 8.8 0a4.4 4.4 0 1 0 -8.8 0M336.8 368.6a4.4 4.4 0 1 0 8.8 0a4.4 4.4 0 1 0 -8.8 0M340.1 379a4.4 4.4 0 1 0 8.8 0a4.4 4.4 0 1 0 -8.8 0M354 365.1a4.4 4.4 0 1 0 8.8 0a4.4 4.4 0 1 0 -8.8 0M368.1 365.1a4.4 4.4 0 1 0 8.8 0a4.4 4.4 0 1 0 -8.8 0M378.5 363.1a4.4 4.4 0 1 0 8.8 0a4.4 4.4 0 1 0 -8.8 0M363.1 377.3a4.4 4.4 0 1 0 8.8 0a4.4 4.4 0 1 0 -8.8 0M369.8 375.3a4.4 4.4 0 1 0 8.8 0a4.4 4.4 0 1 0 -8.8 0M384.9 374a4.4 4.4 0 1 0 8.8 0a4.4 4.4 0 1 0 -8.8 0M396.6 377.3a4.4 4.4 0 1 0 8.8 0a4.4 4.4 0 1 0 -8.8 0M390.7 384.9a4.4 4.4 0 1 0 8.8 0a4.4 4.4 0 1 0 -8.8 0M359.4 392.7a4.4 4.4 0 1 0 8.8 0a4.4 4.4 0 1 0 -8.8 0M380.2 394.1a4.4 4.4 0 1 0 8.8 0a4.4 4.4 0 1 0 -8.8 0M376.8 399.4a4.4 4.4 0 1 0 8.8 0a4.4 4.4 0 1 0 -8.8 0M363.1 404.5a4.4 4.4 0 1 0 8.8 0a4.4 4.4 0 1 0 -8.8 0M361.1 410a4.4 4.4 0 1 0 8.8 0a4.4 4.4 0 1 0 -8.8 0M247.9 406.6a4.4 4.4 0 1 0 8.8 0a4.4 4.4 0 1 0 -8.8 0M306.9 406.6a4.4 4.4 0 1 0 8.8 0a4.4 4.4 0 1 0 -8.8 0M223.5 422.2a4.4 4.4 0 1 0 8.8 0a4.4 4.4 0 1 0 -8.8 0M256.7 430.9a4.4 4.4 0 1 0 8.8 0a4.4 4.4 0 1 0 -8.8 0M226.8 439.8a4.4 4.4 0 1 0 8.8 0a4.4 4.4 0 1 0 -8.8 0M319.5 420.5a4.4 4.4 0 1 0 8.8 0a4.4 4.4 0 1 0 -8.8 0M315.8 429.3a4.4 4.4 0 1 0 8.8 0a4.4 4.4 0 1 0 -8.8 0M293 430.9a4.4 4.4 0 1 0 8.8 0a4.4 4.4 0 1 0 -8.8 0M329.6 425.6a4.4 4.4 0 1 0 8.8 0a4.4 4.4 0 1 0 -8.8 0M352.7 423.9a4.4 4.4 0 1 0 8.8 0a4.4 4.4 0 1 0 -8.8 0M363.1 425.6a4.4 4.4 0 1 0 8.8 0a4.4 4.4 0 1 0 -8.8 0M374.8 428.9a4.4 4.4 0 1 0 8.8 0a4.4 4.4 0 1 0 -8.8 0M199.1 433a4.4 4.4 0 1 0 8.8 0a4.4 4.4 0 1 0 -8.8 0M242.6 441a4.4 4.4 0 1 0 8.8 0a4.4 4.4 0 1 0 -8.8 0M248.6 439a4.4 4.4 0 1 0 8.8 0a4.4 4.4 0 1 0 -8.8 0M265.6 440a4.4 4.4 0 1 0 8.8 0a4.4 4.4 0 1 0 -8.8 0M280.6 438a4.4 4.4 0 1 0 8.8 0a4.4 4.4 0 1 0 -8.8 0M335.6 429a4.4 4.4 0 1 0 8.8 0a4.4 4.4 0 1 0 -8.8 0M345.6 430a4.4 4.4 0 1 0 8.8 0a4.4 4.4 0 1 0 -8.8 0M367.6 432a4.4 4.4 0 1 0 8.8 0a4.4 4.4 0 1 0 -8.8 0M300.6 436a4.4 4.4 0 1 0 8.8 0a4.4 4.4 0 1 0 -8.8 0M313.6 433a4.4 4.4 0 1 0 8.8 0a4.4 4.4 0 1 0 -8.8 0M323.6 434a4.4 4.4 0 1 0 8.8 0a4.4 4.4 0 1 0 -8.8 0M340.6 432a4.4 4.4 0 1 0 8.8 0a4.4 4.4 0 1 0 -8.8 0M357.6 431a4.4 4.4 0 1 0 8.8 0a4.4 4.4 0 1 0 -8.8 0M371.6 430a4.4 4.4 0 1 0 8.8 0a4.4 4.4 0 1 0 -8.8 0M293.6 438a4.4 4.4 0 1 0 8.8 0a4.4 4.4 0 1 0 -8.8 0"/>
<path fill="#b21e24" d="M727.2 91.3a4.4 4.4 0 1 0 8.8 0a4.4 4.4 0 1 0 -8.8 0M762.2 84.4a4.4 4.4 0 1 0 8.8 0a4.4 4.4 0 1 0 -8.8 0M645.3 284.9a4.4 4.4 0 1 0 8.8 0a4.4 4.4 0 1 0 -8.8 0M667.9 288.6a4.4 4.4 0 1 0 8.8 0a4.4 4.4 0 1 0 -8.8 0M631.3 337.2a4.4 4.4 0 1 0 8.8 0a4.4 4.4 0 1 0 -8.8 0M620.8 351.1a4.4 4.4 0 1 0 8.8 0a4.4 4.4 0 1 0 -8.8 0M594.5 368.5a4.4 4.4 0 1 0 8.8 0a4.4 4.4 0 1 0 -8.8 0M711.5 368.5a4.4 4.4 0 1 0 8.8 0a4.4 4.4 0 1 0 -8.8 0M605.4 377.1a4.4 4.4 0 1 0 8.8 0a4.4 4.4 0 1 0 -8.8 0M589.4 385.8a4.4 4.4 0 1 0 8.8 0a4.4 4.4 0 1 0 -8.8 0M598.2 387.5a4.4 4.4 0 1 0 8.8 0a4.4 4.4 0 1 0 -8.8 0M610.4 383.8a4.4 4.4 0 1 0 8.8 0a4.4 4.4 0 1 0 -8.8 0M617.6 385.8a4.4 4.4 0 1 0 8.8 0a4.4 4.4 0 1 0 -8.8 0M610.4 394.2a4.4 4.4 0 1 0 8.8 0a4.4 4.4 0 1 0 -8.8 0M694.2 396.2a4.4 4.4 0 1 0 8.8 0a4.4 4.4 0 1 0 -8.8 0M688.7 401.7a4.4 4.4 0 1 0 8.8 0a4.4 4.4 0 1 0 -8.8 0M612.1 406.8a4.4 4.4 0 1 0 8.8 0a4.4 4.4 0 1 0 -8.8 0M633 410.1a4.4 4.4 0 1 0 8.8 0a4.4 4.4 0 1 0 -8.8 0M657.3 416.8a4.4 4.4 0 1 0 8.8 0a4.4 4.4 0 1 0 -8.8 0M732.2 419a4.4 4.4 0 1 0 8.8 0a4.4 4.4 0 1 0 -8.8 0M741.1 424a4.4 4.4 0 1 0 8.8 0a4.4 4.4 0 1 0 -8.8 0M751.5 436.4a4.4 4.4 0 1 0 8.8 0a4.4 4.4 0 1 0 -8.8 0M742.8 441.6a4.4 4.4 0 1 0 8.8 0a4.4 4.4 0 1 0 -8.8 0M716.5 435.2a4.4 4.4 0 1 0 8.8 0a4.4 4.4 0 1 0 -8.8 0M726 445.3a4.4 4.4 0 1 0 8.8 0a4.4 4.4 0 1 0 -8.8 0M700.9 432.7a4.4 4.4 0 1 0 8.8 0a4.4 4.4 0 1 0 -8.8 0M695 428.5a4.4 4.4 0 1 0 8.8 0a4.4 4.4 0 1 0 -8.8 0M688.3 429.4a4.4 4.4 0 1 0 8.8 0a4.4 4.4 0 1 0 -8.8 0M668.2 426.9a4.4 4.4 0 1 0 8.8 0a4.4 4.4 0 1 0 -8.8 0M676.6 431a4.4 4.4 0 1 0 8.8 0a4.4 4.4 0 1 0 -8.8 0M638.1 424a4.4 4.4 0 1 0 8.8 0a4.4 4.4 0 1 0 -8.8 0M618.8 419a4.4 4.4 0 1 0 8.8 0a4.4 4.4 0 1 0 -8.8 0M615.1 421a4.4 4.4 0 1 0 8.8 0a4.4 4.4 0 1 0 -8.8 0M603.7 415.1a4.4 4.4 0 1 0 8.8 0a4.4 4.4 0 1 0 -8.8 0M605.4 419.7a4.4 4.4 0 1 0 8.8 0a4.4 4.4 0 1 0 -8.8 0M587.8 408.4a4.4 4.4 0 1 0 8.8 0a4.4 4.4 0 1 0 -8.8 0M599.5 403.4a4.4 4.4 0 1 0 8.8 0a4.4 4.4 0 1 0 -8.8 0M645.6 428a4.4 4.4 0 1 0 8.8 0a4.4 4.4 0 1 0 -8.8 0M655.6 430a4.4 4.4 0 1 0 8.8 0a4.4 4.4 0 1 0 -8.8 0M707.6 440a4.4 4.4 0 1 0 8.8 0a4.4 4.4 0 1 0 -8.8 0"/>
</g>
<circle cx="395.5" cy="379.2" r="4.3" fill="#8cc454" stroke="#6a2d91" stroke-width="3.2"/>
<text x="368.8" y="350.2" style="font-size:26.3px">MALAT1</text>
<polygon points="1137,449 1300,447 1316,455 1321,458 1333,455 1344,450 1495,447 1484,452 1467,456.5 1434,461 1367,462 1241,460 1196,457 1166,454 1140,449" fill="#000"/>
<path fill="#000" d="M1132.3 448.8a4.4 4.4 0 1 0 8.8 0a4.4 4.4 0 1 0 -8.8 0M1138.1 448.3a4.4 4.4 0 1 0 8.8 0a4.4 4.4 0 1 0 -8.8 0M1143.4 449.4a4.4 4.4 0 1 0 8.8 0a4.4 4.4 0 1 0 -8.8 0M1147.9 448.2a4.4 4.4 0 1 0 8.8 0a4.4 4.4 0 1 0 -8.8 0M1153.9 448.4a4.4 4.4 0 1 0 8.8 0a4.4 4.4 0 1 0 -8.8 0M1158.7 448.1a4.4 4.4 0 1 0 8.8 0a4.4 4.4 0 1 0 -8.8 0M1162.6 449.1a4.4 4.4 0 1 0 8.8 0a4.4 4.4 0 1 0 -8.8 0M1167.8 449.5a4.4 4.4 0 1 0 8.8 0a4.4 4.4 0 1 0 -8.8 0M1173.3 447.9a4.4 4.4 0 1 0 8.8 0a4.4 4.4 0 1 0 -8.8 0M1177.9 448.3a4.4 4.4 0 1 0 8.8 0a4.4 4.4 0 1 0 -8.8 0M1183.9 449.3a4.4 4.4 0 1 0 8.8 0a4.4 4.4 0 1 0 -8.8 0M1187.9 448.1a4.4 4.4 0 1 0 8.8 0a4.4 4.4 0 1 0 -8.8 0M1193.2 449.2a4.4 4.4 0 1 0 8.8 0a4.4 4.4 0 1 0 -8.8 0M1198.1 447.3a4.4 4.4 0 1 0 8.8 0a4.4 4.4 0 1 0 -8.8 0M1203 447.9a4.4 4.4 0 1 0 8.8 0a4.4 4.4 0 1 0 -8.8 0M1209.8 448.8a4.4 4.4 0 1 0 8.8 0a4.4 4.4 0 1 0 -8.8 0M1214.6 449a4.4 4.4 0 1 0 8.8 0a4.4 4.4 0 1 0 -8.8 0M1220.1 447.6a4.4 4.4 0 1 0 8.8 0a4.4 4.4 0 1 0 -8.8 0M1223.7 448.7a4.4 4.4 0 1 0 8.8 0a4.4 4.4 0 1 0 -8.8 0M1229.9 446.9a4.4 4.4 0 1 0 8.8 0a4.4 4.4 0 1 0 -8.8 0M1234.8 447.5a4.4 4.4 0 1 0 8.8 0a4.4 4.4 0 1 0 -8.8 0M1239.3 447.4a4.4 4.4 0 1 0 8.8 0a4.4 4.4 0 1 0 -8.8 0M1244 446.6a4.4 4.4 0 1 0 8.8 0a4.4 4.4 0 1 0 -8.8 0M1249.3 447.3a4.4 4.4 0 1 0 8.8 0a4.4 4.4 0 1 0 -8.8 0M1255.8 446.7a4.4 4.4 0 1 0 8.8 0a4.4 4.4 0 1 0 -8.8 0M1260.9 446.9a4.4 4.4 0 1 0 8.8 0a4.4 4.4 0 1 0 -8.8 0M1264.8 448a4.4 4.4 0 1 0 8.8 0a4.4 4.4 0 1 0 -8.8 0M1270.8 447.2a4.4 4.4 0 1 0 8.8 0a4.4 4.4 0 1 0 -8.8 0M1274.3 447.2a4.4 4.4 0 1 0 8.8 0a4.4 4.4 0 1 0 -8.8 0M1280.1 448a4.4 4.4 0 1 0 8.8 0a4.4 4.4 0 1 0 -8.8 0M1284.8 446.9a4.4 4.4 0 1 0 8.8 0a4.4 4.4 0 1 0 -8.8 0M1291.3 446.1a4.4 4.4 0 1 0 8.8 0a4.4 4.4 0 1 0 -8.8 0M1295.4 447.6a4.4 4.4 0 1 0 8.8 0a4.4 4.4 0 1 0 -8.8 0M1301.5 448.7a4.4 4.4 0 1 0 8.8 0a4.4 4.4 0 1 0 -8.8 0M1305.3 451.5a4.4 4.4 0 1 0 8.8 0a4.4 4.4 0 1 0 -8.8 0M1312.4 454.5a4.4 4.4 0 1 0 8.8 0a4.4 4.4 0 1 0 -8.8 0M1317.1 458.8a4.4 4.4 0 1 0 8.8 0a4.4 4.4 0 1 0 -8.8 0M1322.3 456a4.4 4.4 0 1 0 8.8 0a4.4 4.4 0 1 0 -8.8 0M1329.5 455.2a4.4 4.4 0 1 0 8.8 0a4.4 4.4 0 1 0 -8.8 0M1333.6 452.9a4.4 4.4 0 1 0 8.8 0a4.4 4.4 0 1 0 -8.8 0M1339.2 449.6a4.4 4.4 0 1 0 8.8 0a4.4 4.4 0 1 0 -8.8 0M1343.6 450.4a4.4 4.4 0 1 0 8.8 0a4.4 4.4 0 1 0 -8.8 0M1350.5 450.1a4.4 4.4 0 1 0 8.8 0a4.4 4.4 0 1 0 -8.8 0M1355.6 448.7a4.4 4.4 0 1 0 8.8 0a4.4 4.4 0 1 0 -8.8 0M1359.2 449.6a4.4 4.4 0 1 0 8.8 0a4.4 4.4 0 1 0 -8.8 0M1365.7 450.4a4.4 4.4 0 1 0 8.8 0a4.4 4.4 0 1 0 -8.8 0M1369.6 448.9a4.4 4.4 0 1 0 8.8 0a4.4 4.4 0 1 0 -8.8 0M1374.7 449.3a4.4 4.4 0 1 0 8.8 0a4.4 4.4 0 1 0 -8.8 0M1380.7 448.6a4.4 4.4 0 1 0 8.8 0a4.4 4.4 0 1 0 -8.8 0M1385.5 449.6a4.4 4.4 0 1 0 8.8 0a4.4 4.4 0 1 0 -8.8 0M1390.6 449.5a4.4 4.4 0 1 0 8.8 0a4.4 4.4 0 1 0 -8.8 0M1395.2 448.6a4.4 4.4 0 1 0 8.8 0a4.4 4.4 0 1 0 -8.8 0M1399.6 448.5a4.4 4.4 0 1 0 8.8 0a4.4 4.4 0 1 0 -8.8 0M1405.6 447.9a4.4 4.4 0 1 0 8.8 0a4.4 4.4 0 1 0 -8.8 0M1409.5 449.1a4.4 4.4 0 1 0 8.8 0a4.4 4.4 0 1 0 -8.8 0M1414.6 447.6a4.4 4.4 0 1 0 8.8 0a4.4 4.4 0 1 0 -8.8 0M1419.2 448.5a4.4 4.4 0 1 0 8.8 0a4.4 4.4 0 1 0 -8.8 0M1424.8 449.3a4.4 4.4 0 1 0 8.8 0a4.4 4.4 0 1 0 -8.8 0M1431 449.2a4.4 4.4 0 1 0 8.8 0a4.4 4.4 0 1 0 -8.8 0M1434.8 447.3a4.4 4.4 0 1 0 8.8 0a4.4 4.4 0 1 0 -8.8 0M1439.5 448a4.4 4.4 0 1 0 8.8 0a4.4 4.4 0 1 0 -8.8 0M1445.7 447.8a4.4 4.4 0 1 0 8.8 0a4.4 4.4 0 1 0 -8.8 0M1449.8 447.6a4.4 4.4 0 1 0 8.8 0a4.4 4.4 0 1 0 -8.8 0M1455.6 448a4.4 4.4 0 1 0 8.8 0a4.4 4.4 0 1 0 -8.8 0M1460.9 448.3a4.4 4.4 0 1 0 8.8 0a4.4 4.4 0 1 0 -8.8 0M1465.8 446.7a4.4 4.4 0 1 0 8.8 0a4.4 4.4 0 1 0 -8.8 0M1471.1 447a4.4 4.4 0 1 0 8.8 0a4.4 4.4 0 1 0 -8.8 0M1475.6 447a4.4 4.4 0 1 0 8.8 0a4.4 4.4 0 1 0 -8.8 0M1481 446.6a4.4 4.4 0 1 0 8.8 0a4.4 4.4 0 1 0 -8.8 0M1485.1 446.6a4.4 4.4 0 1 0 8.8 0a4.4 4.4 0 1 0 -8.8 0M1489.9 447.8a4.4 4.4 0 1 0 8.8 0a4.4 4.4 0 1 0 -8.8 0M1485.3 449.2a4.4 4.4 0 1 0 8.8 0a4.4 4.4 0 1 0 -8.8 0M1479.4 453a4.4 4.4 0 1 0 8.8 0a4.4 4.4 0 1 0 -8.8 0M1473.9 453a4.4 4.4 0 1 0 8.8 0a4.4 4.4 0 1 0 -8.8 0M1468.9 455.3a4.4 4.4 0 1 0 8.8 0a4.4 4.4 0 1 0 -8.8 0M1463.6 455.7a4.4 4.4 0 1 0 8.8 0a4.4 4.4 0 1 0 -8.8 0M1457 457.9a4.4 4.4 0 1 0 8.8 0a4.4 4.4 0 1 0 -8.8 0M1452.3 458.8a4.4 4.4 0 1 0 8.8 0a4.4 4.4 0 1 0 -8.8 0M1445.2 458.3a4.4 4.4 0 1 0 8.8 0a4.4 4.4 0 1 0 -8.8 0M1439.8 458.9a4.4 4.4 0 1 0 8.8 0a4.4 4.4 0 1 0 -8.8 0M1436 460.4a4.4 4.4 0 1 0 8.8 0a4.4 4.4 0 1 0 -8.8 0M1430.5 460.7a4.4 4.4 0 1 0 8.8 0a4.4 4.4 0 1 0 -8.8 0M1425.2 461a4.4 4.4 0 1 0 8.8 0a4.4 4.4 0 1 0 -8.8 0M1418.8 461.7a4.4 4.4 0 1 0 8.8 0a4.4 4.4 0 1 0 -8.8 0M1415 460.4a4.4 4.4 0 1 0 8.8 0a4.4 4.4 0 1 0 -8.8 0M1409.2 461.5a4.4 4.4 0 1 0 8.8 0a4.4 4.4 0 1 0 -8.8 0M1403.3 461.1a4.4 4.4 0 1 0 8.8 0a4.4 4.4 0 1 0 -8.8 0M1398 460.9a4.4 4.4 0 1 0 8.8 0a4.4 4.4 0 1 0 -8.8 0M1393 461.7a4.4 4.4 0 1 0 8.8 0a4.4 4.4 0 1 0 -8.8 0M1388.7 461a4.4 4.4 0 1 0 8.8 0a4.4 4.4 0 1 0 -8.8 0M1382.2 461.3a4.4 4.4 0 1 0 8.8 0a4.4 4.4 0 1 0 -8.8 0M1378.4 461.1a4.4 4.4 0 1 0 8.8 0a4.4 4.4 0 1 0 -8.8 0M1372.5 461.3a4.4 4.4 0 1 0 8.8 0a4.4 4.4 0 1 0 -8.8 0M1368.3 462a4.4 4.4 0 1 0 8.8 0a4.4 4.4 0 1 0 -8.8 0M1361.7 461.2a4.4 4.4 0 1 0 8.8 0a4.4 4.4 0 1 0 -8.8 0M1357.4 462a4.4 4.4 0 1 0 8.8 0a4.4 4.4 0 1 0 -8.8 0M1352.8 461a4.4 4.4 0 1 0 8.8 0a4.4 4.4 0 1 0 -8.8 0M1346.8 462.2a4.4 4.4 0 1 0 8.8 0a4.4 4.4 0 1 0 -8.8 0M1342.3 461.2a4.4 4.4 0 1 0 8.8 0a4.4 4.4 0 1 0 -8.8 0M1337 462.5a4.4 4.4 0 1 0 8.8 0a4.4 4.4 0 1 0 -8.8 0M1332 461.7a4.4 4.4 0 1 0 8.8 0a4.4 4.4 0 1 0 -8.8 0M1327 461.3a4.4 4.4 0 1 0 8.8 0a4.4 4.4 0 1 0 -8.8 0M1323 462.4a4.4 4.4 0 1 0 8.8 0a4.4 4.4 0 1 0 -8.8 0M1317 460.7a4.4 4.4 0 1 0 8.8 0a4.4 4.4 0 1 0 -8.8 0M1312.7 460.6a4.4 4.4 0 1 0 8.8 0a4.4 4.4 0 1 0 -8.8 0M1306.2 461.9a4.4 4.4 0 1 0 8.8 0a4.4 4.4 0 1 0 -8.8 0M1302 461.7a4.4 4.4 0 1 0 8.8 0a4.4 4.4 0 1 0 -8.8 0M1296.9 461.7a4.4 4.4 0 1 0 8.8 0a4.4 4.4 0 1 0 -8.8 0M1292 460.2a4.4 4.4 0 1 0 8.8 0a4.4 4.4 0 1 0 -8.8 0M1286 460.9a4.4 4.4 0 1 0 8.8 0a4.4 4.4 0 1 0 -8.8 0M1282.2 461.5a4.4 4.4 0 1 0 8.8 0a4.4 4.4 0 1 0 -8.8 0M1276.1 460.9a4.4 4.4 0 1 0 8.8 0a4.4 4.4 0 1 0 -8.8 0M1271.6 460.6a4.4 4.4 0 1 0 8.8 0a4.4 4.4 0 1 0 -8.8 0M1266.1 460a4.4 4.4 0 1 0 8.8 0a4.4 4.4 0 1 0 -8.8 0M1261.8 461.3a4.4 4.4 0 1 0 8.8 0a4.4 4.4 0 1 0 -8.8 0M1256 460.3a4.4 4.4 0 1 0 8.8 0a4.4 4.4 0 1 0 -8.8 0M1252.3 461.2a4.4 4.4 0 1 0 8.8 0a4.4 4.4 0 1 0 -8.8 0M1246.1 459.4a4.4 4.4 0 1 0 8.8 0a4.4 4.4 0 1 0 -8.8 0M1242.5 461a4.4 4.4 0 1 0 8.8 0a4.4 4.4 0 1 0 -8.8 0M1236.6 459.1a4.4 4.4 0 1 0 8.8 0a4.4 4.4 0 1 0 -8.8 0M1232.5 459.4a4.4 4.4 0 1 0 8.8 0a4.4 4.4 0 1 0 -8.8 0M1227.4 459.6a4.4 4.4 0 1 0 8.8 0a4.4 4.4 0 1 0 -8.8 0M1222.2 458.3a4.4 4.4 0 1 0 8.8 0a4.4 4.4 0 1 0 -8.8 0M1217.2 458.1a4.4 4.4 0 1 0 8.8 0a4.4 4.4 0 1 0 -8.8 0M1211.4 459a4.4 4.4 0 1 0 8.8 0a4.4 4.4 0 1 0 -8.8 0M1207.3 457.4a4.4 4.4 0 1 0 8.8 0a4.4 4.4 0 1 0 -8.8 0M1201 457.5a4.4 4.4 0 1 0 8.8 0a4.4 4.4 0 1 0 -8.8 0M1196.6 457.1a4.4 4.4 0 1 0 8.8 0a4.4 4.4 0 1 0 -8.8 0M1190.8 456.5a4.4 4.4 0 1 0 8.8 0a4.4 4.4 0 1 0 -8.8 0M1187 457.3a4.4 4.4 0 1 0 8.8 0a4.4 4.4 0 1 0 -8.8 0M1180.7 456.1a4.4 4.4 0 1 0 8.8 0a4.4 4.4 0 1 0 -8.8 0M1177.1 454.6a4.4 4.4 0 1 0 8.8 0a4.4 4.4 0 1 0 -8.8 0M1172.3 454.2a4.4 4.4 0 1 0 8.8 0a4.4 4.4 0 1 0 -8.8 0M1166.8 454.6a4.4 4.4 0 1 0 8.8 0a4.4 4.4 0 1 0 -8.8 0M1161.9 453.6a4.4 4.4 0 1 0 8.8 0a4.4 4.4 0 1 0 -8.8 0M1156.2 453.2a4.4 4.4 0 1 0 8.8 0a4.4 4.4 0 1 0 -8.8 0M1151.1 452.3a4.4 4.4 0 1 0 8.8 0a4.4 4.4 0 1 0 -8.8 0M1145.9 450.9a4.4 4.4 0 1 0 8.8 0a4.4 4.4 0 1 0 -8.8 0M1139.8 450.2a4.4 4.4 0 1 0 8.8 0a4.4 4.4 0 1 0 -8.8 0M1135.6 448.5a4.4 4.4 0 1 0 8.8 0a4.4 4.4 0 1 0 -8.8 0"/>
<clipPath id="cA2"><rect x="900" y="0" width="900" height="449.7"/></clipPath>
<g clip-path="url(#cA2)">
<polygon points="1137,447.5 1140,440 1236,436 1240,420 1244,408 1252,396 1258,396 1265,404 1273,418 1285,432 1296,442 1296,447.5" fill="#8cc454"/>
<path fill="#8cc454" d="M1133.1 448.1a4.4 4.4 0 1 0 8.8 0a4.4 4.4 0 1 0 -8.8 0M1135.5 439.4a4.4 4.4 0 1 0 8.8 0a4.4 4.4 0 1 0 -8.8 0M1140.6 439a4.4 4.4 0 1 0 8.8 0a4.4 4.4 0 1 0 -8.8 0M1145 439.4a4.4 4.4 0 1 0 8.8 0a4.4 4.4 0 1 0 -8.8 0M1149.9 439.3a4.4 4.4 0 1 0 8.8 0a4.4 4.4 0 1 0 -8.8 0M1155.8 438.2a4.4 4.4 0 1 0 8.8 0a4.4 4.4 0 1 0 -8.8 0M1161.1 438.1a4.4 4.4 0 1 0 8.8 0a4.4 4.4 0 1 0 -8.8 0M1166.4 439.3a4.4 4.4 0 1 0 8.8 0a4.4 4.4 0 1 0 -8.8 0M1171 437.6a4.4 4.4 0 1 0 8.8 0a4.4 4.4 0 1 0 -8.8 0M1176 438.1a4.4 4.4 0 1 0 8.8 0a4.4 4.4 0 1 0 -8.8 0M1182 437.4a4.4 4.4 0 1 0 8.8 0a4.4 4.4 0 1 0 -8.8 0M1186.8 438.9a4.4 4.4 0 1 0 8.8 0a4.4 4.4 0 1 0 -8.8 0M1191.6 438.3a4.4 4.4 0 1 0 8.8 0a4.4 4.4 0 1 0 -8.8 0M1195.6 438.4a4.4 4.4 0 1 0 8.8 0a4.4 4.4 0 1 0 -8.8 0M1201.3 438.2a4.4 4.4 0 1 0 8.8 0a4.4 4.4 0 1 0 -8.8 0M1207.2 436.4a4.4 4.4 0 1 0 8.8 0a4.4 4.4 0 1 0 -8.8 0M1212 437.7a4.4 4.4 0 1 0 8.8 0a4.4 4.4 0 1 0 -8.8 0M1215.6 436.3a4.4 4.4 0 1 0 8.8 0a4.4 4.4 0 1 0 -8.8 0M1222 435.7a4.4 4.4 0 1 0 8.8 0a4.4 4.4 0 1 0 -8.8 0M1227.3 435.8a4.4 4.4 0 1 0 8.8 0a4.4 4.4 0 1 0 -8.8 0M1232.2 435.3a4.4 4.4 0 1 0 8.8 0a4.4 4.4 0 1 0 -8.8 0M1232.9 431.5a4.4 4.4 0 1 0 8.8 0a4.4 4.4 0 1 0 -8.8 0M1233.7 424.9a4.4 4.4 0 1 0 8.8 0a4.4 4.4 0 1 0 -8.8 0M1235.6 419.6a4.4 4.4 0 1 0 8.8 0a4.4 4.4 0 1 0 -8.8 0M1236.7 413.4a4.4 4.4 0 1 0 8.8 0a4.4 4.4 0 1 0 -8.8 0M1238.9 408.9a4.4 4.4 0 1 0 8.8 0a4.4 4.4 0 1 0 -8.8 0M1244 402.8a4.4 4.4 0 1 0 8.8 0a4.4 4.4 0 1 0 -8.8 0M1246.9 396.6a4.4 4.4 0 1 0 8.8 0a4.4 4.4 0 1 0 -8.8 0M1252.8 396.1a4.4 4.4 0 1 0 8.8 0a4.4 4.4 0 1 0 -8.8 0M1257.4 399.7a4.4 4.4 0 1 0 8.8 0a4.4 4.4 0 1 0 -8.8 0M1261.3 404.1a4.4 4.4 0 1 0 8.8 0a4.4 4.4 0 1 0 -8.8 0M1263.4 409.4a4.4 4.4 0 1 0 8.8 0a4.4 4.4 0 1 0 -8.8 0M1265.1 414.3a4.4 4.4 0 1 0 8.8 0a4.4 4.4 0 1 0 -8.8 0M1268.9 417.8a4.4 4.4 0 1 0 8.8 0a4.4 4.4 0 1 0 -8.8 0M1273.2 422.2a4.4 4.4 0 1 0 8.8 0a4.4 4.4 0 1 0 -8.8 0M1277.6 427.5a4.4 4.4 0 1 0 8.8 0a4.4 4.4 0 1 0 -8.8 0M1280.3 432.5a4.4 4.4 0 1 0 8.8 0a4.4 4.4 0 1 0 -8.8 0M1286 436.4a4.4 4.4 0 1 0 8.8 0a4.4 4.4 0 1 0 -8.8 0M1292.1 441.1a4.4 4.4 0 1 0 8.8 0a4.4 4.4 0 1 0 -8.8 0M1292.2 447a4.4 4.4 0 1 0 8.8 0a4.4 4.4 0 1 0 -8.8 0M1286.7 448.5a4.4 4.4 0 1 0 8.8 0a4.4 4.4 0 1 0 -8.8 0M1281.5 447.8a4.4 4.4 0 1 0 8.8 0a4.4 4.4 0 1 0 -8.8 0M1275.8 446.5a4.4 4.4 0 1 0 8.8 0a4.4 4.4 0 1 0 -8.8 0M1270.2 446.8a4.4 4.4 0 1 0 8.8 0a4.4 4.4 0 1 0 -8.8 0M1266.2 447.4a4.4 4.4 0 1 0 8.8 0a4.4 4.4 0 1 0 -8.8 0M1260.9 448.3a4.4 4.4 0 1 0 8.8 0a4.4 4.4 0 1 0 -8.8 0M1255 447a4.4 4.4 0 1 0 8.8 0a4.4 4.4 0 1 0 -8.8 0M1250.9 446.5a4.4 4.4 0 1 0 8.8 0a4.4 4.4 0 1 0 -8.8 0M1244.4 447.2a4.4 4.4 0 1 0 8.8 0a4.4 4.4 0 1 0 -8.8 0M1239.5 447.2a4.4 4.4 0 1 0 8.8 0a4.4 4.4 0 1 0 -8.8 0M1234.6 447.7a4.4 4.4 0 1 0 8.8 0a4.4 4.4 0 1 0 -8.8 0M1230.2 446.9a4.4 4.4 0 1 0 8.8 0a4.4 4.4 0 1 0 -8.8 0M1225.2 447.4a4.4 4.4 0 1 0 8.8 0a4.4 4.4 0 1 0 -8.8 0M1219.1 448.4a4.4 4.4 0 1 0 8.8 0a4.4 4.4 0 1 0 -8.8 0M1214.2 446.8a4.4 4.4 0 1 0 8.8 0a4.4 4.4 0 1 0 -8.8 0M1208.7 447.8a4.4 4.4 0 1 0 8.8 0a4.4 4.4 0 1 0 -8.8 0M1205.1 448.1a4.4 4.4 0 1 0 8.8 0a4.4 4.4 0 1 0 -8.8 0M1199.1 447a4.4 4.4 0 1 0 8.8 0a4.4 4.4 0 1 0 -8.8 0M1193.2 447.8a4.4 4.4 0 1 0 8.8 0a4.4 4.4 0 1 0 -8.8 0M1189.1 447.2a4.4 4.4 0 1 0 8.8 0a4.4 4.4 0 1 0 -8.8 0M1184.2 447.4a4.4 4.4 0 1 0 8.8 0a4.4 4.4 0 1 0 -8.8 0M1179.6 448a4.4 4.4 0 1 0 8.8 0a4.4 4.4 0 1 0 -8.8 0M1173.1 448.3a4.4 4.4 0 1 0 8.8 0a4.4 4.4 0 1 0 -8.8 0M1167.6 447.6a4.4 4.4 0 1 0 8.8 0a4.4 4.4 0 1 0 -8.8 0M1163.2 447a4.4 4.4 0 1 0 8.8 0a4.4 4.4 0 1 0 -8.8 0M1157.4 448.1a4.4 4.4 0 1 0 8.8 0a4.4 4.4 0 1 0 -8.8 0M1152.1 447.6a4.4 4.4 0 1 0 8.8 0a4.4 4.4 0 1 0 -8.8 0M1148.9 446.8a4.4 4.4 0 1 0 8.8 0a4.4 4.4 0 1 0 -8.8 0M1142.3 447.7a4.4 4.4 0 1 0 8.8 0a4.4 4.4 0 1 0 -8.8 0M1137.7 447.8a4.4 4.4 0 1 0 8.8 0a4.4 4.4 0 1 0 -8.8 0"/>
<polygon points="1348,447.5 1358,433 1367,424 1372,417 1381,411 1388,410 1398,417 1406,430 1415,440 1420,438 1440,436 1470,437 1474,447.5" fill="#b21e24"/>
<path fill="#b21e24" d="M1344.2 446.8a4.4 4.4 0 1 0 8.8 0a4.4 4.4 0 1 0 -8.8 0M1346.6 442.3a4.4 4.4 0 1 0 8.8 0a4.4 4.4 0 1 0 -8.8 0M1349.4 438.6a4.4 4.4 0 1 0 8.8 0a4.4 4.4 0 1 0 -8.8 0M1354.2 433.4a4.4 4.4 0 1 0 8.8 0a4.4 4.4 0 1 0 -8.8 0M1357.1 429.2a4.4 4.4 0 1 0 8.8 0a4.4 4.4 0 1 0 -8.8 0M1363.1 423.9a4.4 4.4 0 1 0 8.8 0a4.4 4.4 0 1 0 -8.8 0M1368.1 416.9a4.4 4.4 0 1 0 8.8 0a4.4 4.4 0 1 0 -8.8 0M1371.6 413.2a4.4 4.4 0 1 0 8.8 0a4.4 4.4 0 1 0 -8.8 0M1376.1 410.1a4.4 4.4 0 1 0 8.8 0a4.4 4.4 0 1 0 -8.8 0M1383.3 410.5a4.4 4.4 0 1 0 8.8 0a4.4 4.4 0 1 0 -8.8 0M1389 414.2a4.4 4.4 0 1 0 8.8 0a4.4 4.4 0 1 0 -8.8 0M1394 416.5a4.4 4.4 0 1 0 8.8 0a4.4 4.4 0 1 0 -8.8 0M1396.4 421.2a4.4 4.4 0 1 0 8.8 0a4.4 4.4 0 1 0 -8.8 0M1399.5 425.7a4.4 4.4 0 1 0 8.8 0a4.4 4.4 0 1 0 -8.8 0M1401.1 430.3a4.4 4.4 0 1 0 8.8 0a4.4 4.4 0 1 0 -8.8 0M1407 434.4a4.4 4.4 0 1 0 8.8 0a4.4 4.4 0 1 0 -8.8 0M1411.4 439a4.4 4.4 0 1 0 8.8 0a4.4 4.4 0 1 0 -8.8 0M1415.1 437.5a4.4 4.4 0 1 0 8.8 0a4.4 4.4 0 1 0 -8.8 0M1421.1 438.4a4.4 4.4 0 1 0 8.8 0a4.4 4.4 0 1 0 -8.8 0M1426.1 436.7a4.4 4.4 0 1 0 8.8 0a4.4 4.4 0 1 0 -8.8 0M1431.4 436.2a4.4 4.4 0 1 0 8.8 0a4.4 4.4 0 1 0 -8.8 0M1435.1 436.8a4.4 4.4 0 1 0 8.8 0a4.4 4.4 0 1 0 -8.8 0M1440.9 436.6a4.4 4.4 0 1 0 8.8 0a4.4 4.4 0 1 0 -8.8 0M1445.9 437.3a4.4 4.4 0 1 0 8.8 0a4.4 4.4 0 1 0 -8.8 0M1450.5 437.2a4.4 4.4 0 1 0 8.8 0a4.4 4.4 0 1 0 -8.8 0M1456 437.4a4.4 4.4 0 1 0 8.8 0a4.4 4.4 0 1 0 -8.8 0M1460.5 437.3a4.4 4.4 0 1 0 8.8 0a4.4 4.4 0 1 0 -8.8 0M1465.7 436.6a4.4 4.4 0 1 0 8.8 0a4.4 4.4 0 1 0 -8.8 0M1467 442.5a4.4 4.4 0 1 0 8.8 0a4.4 4.4 0 1 0 -8.8 0M1468.8 448.3a4.4 4.4 0 1 0 8.8 0a4.4 4.4 0 1 0 -8.8 0M1463.8 446.6a4.4 4.4 0 1 0 8.8 0a4.4 4.4 0 1 0 -8.8 0M1458.7 448.4a4.4 4.4 0 1 0 8.8 0a4.4 4.4 0 1 0 -8.8 0M1454.2 446.8a4.4 4.4 0 1 0 8.8 0a4.4 4.4 0 1 0 -8.8 0M1448.5 446.6a4.4 4.4 0 1 0 8.8 0a4.4 4.4 0 1 0 -8.8 0M1444.8 447.8a4.4 4.4 0 1 0 8.8 0a4.4 4.4 0 1 0 -8.8 0M1439.8 448a4.4 4.4 0 1 0 8.8 0a4.4 4.4 0 1 0 -8.8 0M1433.5 447.7a4.4 4.4 0 1 0 8.8 0a4.4 4.4 0 1 0 -8.8 0M1429 448.1a4.4 4.4 0 1 0 8.8 0a4.4 4.4 0 1 0 -8.8 0M1424.9 448.3a4.4 4.4 0 1 0 8.8 0a4.4 4.4 0 1 0 -8.8 0M1418.3 448.2a4.4 4.4 0 1 0 8.8 0a4.4 4.4 0 1 0 -8.8 0M1415 448.4a4.4 4.4 0 1 0 8.8 0a4.4 4.4 0 1 0 -8.8 0M1408.3 446.9a4.4 4.4 0 1 0 8.8 0a4.4 4.4 0 1 0 -8.8 0M1403.3 446.6a4.4 4.4 0 1 0 8.8 0a4.4 4.4 0 1 0 -8.8 0M1399.7 448.1a4.4 4.4 0 1 0 8.8 0a4.4 4.4 0 1 0 -8.8 0M1394.3 448.2a4.4 4.4 0 1 0 8.8 0a4.4 4.4 0 1 0 -8.8 0M1389.2 447.1a4.4 4.4 0 1 0 8.8 0a4.4 4.4 0 1 0 -8.8 0M1383.1 446.7a4.4 4.4 0 1 0 8.8 0a4.4 4.4 0 1 0 -8.8 0M1379.4 446.9a4.4 4.4 0 1 0 8.8 0a4.4 4.4 0 1 0 -8.8 0M1373.5 447.3a4.4 4.4 0 1 0 8.8 0a4.4 4.4 0 1 0 -8.8 0M1367.8 447a4.4 4.4 0 1 0 8.8 0a4.4 4.4 0 1 0 -8.8 0M1363.3 447.9a4.4 4.4 0 1 0 8.8 0a4.4 4.4 0 1 0 -8.8 0M1358.5 447.1a4.4 4.4 0 1 0 8.8 0a4.4 4.4 0 1 0 -8.8 0M1354.6 447.5a4.4 4.4 0 1 0 8.8 0a4.4 4.4 0 1 0 -8.8 0M1349.3 447.7a4.4 4.4 0 1 0 8.8 0a4.4 4.4 0 1 0 -8.8 0"/>
<path fill="#8cc454" d="M1161.9 155.4a4.4 4.4 0 1 0 8.8 0a4.4 4.4 0 1 0 -8.8 0M1137.8 284.5a4.4 4.4 0 1 0 8.8 0a4.4 4.4 0 1 0 -8.8 0M1200.4 289.8a4.4 4.4 0 1 0 8.8 0a4.4 4.4 0 1 0 -8.8 0M1115.2 326.3a4.4 4.4 0 1 0 8.8 0a4.4 4.4 0 1 0 -8.8 0M1134 338.5a4.4 4.4 0 1 0 8.8 0a4.4 4.4 0 1 0 -8.8 0M1214.3 343.6a4.4 4.4 0 1 0 8.8 0a4.4 4.4 0 1 0 -8.8 0M1195.1 355.9a4.4 4.4 0 1 0 8.8 0a4.4 4.4 0 1 0 -8.8 0M1223 355.4a4.4 4.4 0 1 0 8.8 0a4.4 4.4 0 1 0 -8.8 0M1230.1 354.2a4.4 4.4 0 1 0 8.8 0a4.4 4.4 0 1 0 -8.8 0M1217.7 364.5a4.4 4.4 0 1 0 8.8 0a4.4 4.4 0 1 0 -8.8 0M1193.3 371.6a4.4 4.4 0 1 0 8.8 0a4.4 4.4 0 1 0 -8.8 0M1223 373.2a4.4 4.4 0 1 0 8.8 0a4.4 4.4 0 1 0 -8.8 0M1232.8 379.2a4.4 4.4 0 1 0 8.8 0a4.4 4.4 0 1 0 -8.8 0M1231.3 382.6a4.4 4.4 0 1 0 8.8 0a4.4 4.4 0 1 0 -8.8 0M1211 383.8a4.4 4.4 0 1 0 8.8 0a4.4 4.4 0 1 0 -8.8 0M1111.4 382.1a4.4 4.4 0 1 0 8.8 0a4.4 4.4 0 1 0 -8.8 0M1130.6 385.6a4.4 4.4 0 1 0 8.8 0a4.4 4.4 0 1 0 -8.8 0M1169 387.4a4.4 4.4 0 1 0 8.8 0a4.4 4.4 0 1 0 -8.8 0M1087 396.1a4.4 4.4 0 1 0 8.8 0a4.4 4.4 0 1 0 -8.8 0M1223 392.7a4.4 4.4 0 1 0 8.8 0a4.4 4.4 0 1 0 -8.8 0M1177.8 397.6a4.4 4.4 0 1 0 8.8 0a4.4 4.4 0 1 0 -8.8 0M1163.4 400.7a4.4 4.4 0 1 0 8.8 0a4.4 4.4 0 1 0 -8.8 0M1161.9 404.9a4.4 4.4 0 1 0 8.8 0a4.4 4.4 0 1 0 -8.8 0M1129.1 404.9a4.4 4.4 0 1 0 8.8 0a4.4 4.4 0 1 0 -8.8 0M1115.2 410a4.4 4.4 0 1 0 8.8 0a4.4 4.4 0 1 0 -8.8 0M1193.3 408.2a4.4 4.4 0 1 0 8.8 0a4.4 4.4 0 1 0 -8.8 0M1231.3 404.9a4.4 4.4 0 1 0 8.8 0a4.4 4.4 0 1 0 -8.8 0M1170.2 417a4.4 4.4 0 1 0 8.8 0a4.4 4.4 0 1 0 -8.8 0M1168.7 419.1a4.4 4.4 0 1 0 8.8 0a4.4 4.4 0 1 0 -8.8 0M1224.5 417a4.4 4.4 0 1 0 8.8 0a4.4 4.4 0 1 0 -8.8 0M1213.2 421.8a4.4 4.4 0 1 0 8.8 0a4.4 4.4 0 1 0 -8.8 0M1217.7 420.3a4.4 4.4 0 1 0 8.8 0a4.4 4.4 0 1 0 -8.8 0M1083.5 420.3a4.4 4.4 0 1 0 8.8 0a4.4 4.4 0 1 0 -8.8 0M1090.3 427.5a4.4 4.4 0 1 0 8.8 0a4.4 4.4 0 1 0 -8.8 0M1097.5 423.6a4.4 4.4 0 1 0 8.8 0a4.4 4.4 0 1 0 -8.8 0M1112.9 425.6a4.4 4.4 0 1 0 8.8 0a4.4 4.4 0 1 0 -8.8 0M1113.4 430.8a4.4 4.4 0 1 0 8.8 0a4.4 4.4 0 1 0 -8.8 0M1106.1 434.1a4.4 4.4 0 1 0 8.8 0a4.4 4.4 0 1 0 -8.8 0M1120.2 437.9a4.4 4.4 0 1 0 8.8 0a4.4 4.4 0 1 0 -8.8 0M1139.3 432.3a4.4 4.4 0 1 0 8.8 0a4.4 4.4 0 1 0 -8.8 0M1150.9 427.1a4.4 4.4 0 1 0 8.8 0a4.4 4.4 0 1 0 -8.8 0M1160.1 425.6a4.4 4.4 0 1 0 8.8 0a4.4 4.4 0 1 0 -8.8 0M1184.6 427.1a4.4 4.4 0 1 0 8.8 0a4.4 4.4 0 1 0 -8.8 0M1177.8 429.3a4.4 4.4 0 1 0 8.8 0a4.4 4.4 0 1 0 -8.8 0M1195.6 432a4.4 4.4 0 1 0 8.8 0a4.4 4.4 0 1 0 -8.8 0M1207.6 431a4.4 4.4 0 1 0 8.8 0a4.4 4.4 0 1 0 -8.8 0M1225.6 428a4.4 4.4 0 1 0 8.8 0a4.4 4.4 0 1 0 -8.8 0"/>
<path fill="#b21e24" d="M1430.2 326a4.4 4.4 0 1 0 8.8 0a4.4 4.4 0 1 0 -8.8 0M1435.5 331.5a4.4 4.4 0 1 0 8.8 0a4.4 4.4 0 1 0 -8.8 0M1432.2 330.2a4.4 4.4 0 1 0 8.8 0a4.4 4.4 0 1 0 -8.8 0M1425.1 340.2a4.4 4.4 0 1 0 8.8 0a4.4 4.4 0 1 0 -8.8 0M1400.8 360.7a4.4 4.4 0 1 0 8.8 0a4.4 4.4 0 1 0 -8.8 0M1411.2 366.5a4.4 4.4 0 1 0 8.8 0a4.4 4.4 0 1 0 -8.8 0M1402.4 369.5a4.4 4.4 0 1 0 8.8 0a4.4 4.4 0 1 0 -8.8 0M1397 380.4a4.4 4.4 0 1 0 8.8 0a4.4 4.4 0 1 0 -8.8 0M1397 384.6a4.4 4.4 0 1 0 8.8 0a4.4 4.4 0 1 0 -8.8 0M1406.2 382.1a4.4 4.4 0 1 0 8.8 0a4.4 4.4 0 1 0 -8.8 0M1435.5 380.4a4.4 4.4 0 1 0 8.8 0a4.4 4.4 0 1 0 -8.8 0M1400.3 390.5a4.4 4.4 0 1 0 8.8 0a4.4 4.4 0 1 0 -8.8 0M1407.5 391.8a4.4 4.4 0 1 0 8.8 0a4.4 4.4 0 1 0 -8.8 0M1382.7 393.8a4.4 4.4 0 1 0 8.8 0a4.4 4.4 0 1 0 -8.8 0M1382.7 398.9a4.4 4.4 0 1 0 8.8 0a4.4 4.4 0 1 0 -8.8 0M1423 397.5a4.4 4.4 0 1 0 8.8 0a4.4 4.4 0 1 0 -8.8 0M1430.5 397.5a4.4 4.4 0 1 0 8.8 0a4.4 4.4 0 1 0 -8.8 0M1470.4 399.4a4.4 4.4 0 1 0 8.8 0a4.4 4.4 0 1 0 -8.8 0M1404.5 402.6a4.4 4.4 0 1 0 8.8 0a4.4 4.4 0 1 0 -8.8 0M1387.8 403.1a4.4 4.4 0 1 0 8.8 0a4.4 4.4 0 1 0 -8.8 0M1397 407.8a4.4 4.4 0 1 0 8.8 0a4.4 4.4 0 1 0 -8.8 0M1428.8 410.1a4.4 4.4 0 1 0 8.8 0a4.4 4.4 0 1 0 -8.8 0M1547.2 357.7a4.4 4.4 0 1 0 8.8 0a4.4 4.4 0 1 0 -8.8 0M1533.4 375.3a4.4 4.4 0 1 0 8.8 0a4.4 4.4 0 1 0 -8.8 0M1608.2 371.7a4.4 4.4 0 1 0 8.8 0a4.4 4.4 0 1 0 -8.8 0M1590.8 389.2a4.4 4.4 0 1 0 8.8 0a4.4 4.4 0 1 0 -8.8 0M1512.4 418.6a4.4 4.4 0 1 0 8.8 0a4.4 4.4 0 1 0 -8.8 0M1497.3 420.3a4.4 4.4 0 1 0 8.8 0a4.4 4.4 0 1 0 -8.8 0M1529.7 430.9a4.4 4.4 0 1 0 8.8 0a4.4 4.4 0 1 0 -8.8 0M1519.6 437.8a4.4 4.4 0 1 0 8.8 0a4.4 4.4 0 1 0 -8.8 0M1512.4 441.2a4.4 4.4 0 1 0 8.8 0a4.4 4.4 0 1 0 -8.8 0M1501.7 441.7a4.4 4.4 0 1 0 8.8 0a4.4 4.4 0 1 0 -8.8 0M1501.7 446.2a4.4 4.4 0 1 0 8.8 0a4.4 4.4 0 1 0 -8.8 0M1459.8 420.2a4.4 4.4 0 1 0 8.8 0a4.4 4.4 0 1 0 -8.8 0M1482.8 416.8a4.4 4.4 0 1 0 8.8 0a4.4 4.4 0 1 0 -8.8 0M1496.7 420.2a4.4 4.4 0 1 0 8.8 0a4.4 4.4 0 1 0 -8.8 0M1474.1 439.9a4.4 4.4 0 1 0 8.8 0a4.4 4.4 0 1 0 -8.8 0M1471.6 430.7a4.4 4.4 0 1 0 8.8 0a4.4 4.4 0 1 0 -8.8 0M1459.8 429a4.4 4.4 0 1 0 8.8 0a4.4 4.4 0 1 0 -8.8 0M1421.3 415.6a4.4 4.4 0 1 0 8.8 0a4.4 4.4 0 1 0 -8.8 0M1412.9 414.8a4.4 4.4 0 1 0 8.8 0a4.4 4.4 0 1 0 -8.8 0M1402.9 419a4.4 4.4 0 1 0 8.8 0a4.4 4.4 0 1 0 -8.8 0M1431.3 425.4a4.4 4.4 0 1 0 8.8 0a4.4 4.4 0 1 0 -8.8 0M1434.7 432.4a4.4 4.4 0 1 0 8.8 0a4.4 4.4 0 1 0 -8.8 0M1485 446.6a4.4 4.4 0 1 0 8.8 0a4.4 4.4 0 1 0 -8.8 0M1495 444.1a4.4 4.4 0 1 0 8.8 0a4.4 4.4 0 1 0 -8.8 0M1445.6 428a4.4 4.4 0 1 0 8.8 0a4.4 4.4 0 1 0 -8.8 0M1450.6 432a4.4 4.4 0 1 0 8.8 0a4.4 4.4 0 1 0 -8.8 0"/>
</g>
<circle cx="1248.5" cy="378.7" r="4.3" fill="#8cc454" stroke="#6a2d91" stroke-width="3.2"/>
<text x="1220.4" y="335.9" style="font-size:26.4px">MALAT1</text>
<circle cx="1681.9" cy="19.3" r="6.6" fill="#000"/>
<circle cx="1683.7" cy="69.2" r="6.6" fill="#b21e24"/>
<circle cx="1684.4" cy="114.5" r="6.6" fill="#8cc454"/>
<text x="1710.9" y="30.5" style="font-size:26.4px">Unchanged</text>
<text x="1710.9" y="75.8">Up-regulated</text>
<text x="1710.7" y="122">Down-regulated</text>
<text x="-0.2" y="717.3" style="font-size:43.5px">B</text>
<text x="275.5" y="753">HCT116</text>
<rect x="216.5" y="838.8" width="36.4" height="242.4" fill="#fff" stroke="#000" stroke-width="3"/>
<line x1="296" y1="952.9" x2="296" y2="937.3" stroke="#000" stroke-width="3"/>
<line x1="286" y1="938.8" x2="306" y2="938.8" stroke="#000" stroke-width="3"/>
<rect x="278" y="954.4" width="36" height="126.8" fill="#e84545" stroke="#000" stroke-width="3"/>
<line x1="357.5" y1="972.9" x2="357.5" y2="961.9" stroke="#000" stroke-width="3"/>
<line x1="347.5" y1="963.4" x2="367.5" y2="963.4" stroke="#000" stroke-width="3"/>
<rect x="339.5" y="974.4" width="36" height="106.8" fill="#33ad35" stroke="#000" stroke-width="3"/>
<text x="289.7" y="941.7" style="font-size:35.5px" font-weight="bold">*</text>
<text x="350.6" y="965" style="font-size:35.5px" font-weight="bold">*</text>
<line x1="194.2" y1="786.5" x2="194.2" y2="1083.2" stroke="#000" stroke-width="4"/>
<line x1="192.2" y1="1081.2" x2="401" y2="1081.2" stroke="#000" stroke-width="4"/>
<line x1="187.2" y1="1081.2" x2="194.2" y2="1081.2" stroke="#000" stroke-width="4"/>
<text x="147.3" y="1084.8">0</text>
<line x1="187.2" y1="983.6" x2="194.2" y2="983.6" stroke="#000" stroke-width="4"/>
<text x="125.1" y="991.2">0.4</text>
<line x1="187.2" y1="886.1" x2="194.2" y2="886.1" stroke="#000" stroke-width="4"/>
<text x="125.5" y="896">0.8</text>
<line x1="187.2" y1="788.5" x2="194.2" y2="788.5" stroke="#000" stroke-width="4"/>
<text x="125.7" y="801.9">1.2</text>
<line x1="234.7" y1="1081.2" x2="234.7" y2="1088.2" stroke="#000" stroke-width="4"/>
<line x1="296" y1="1081.2" x2="296" y2="1088.2" stroke="#000" stroke-width="4"/>
<line x1="357.5" y1="1081.2" x2="357.5" y2="1088.2" stroke="#000" stroke-width="4"/>
<text x="239" y="1114.2" text-anchor="end" style="font-size:25.9px" transform="rotate(-45 239 1114.2)">Control</text>
<text x="307" y="1112.2" text-anchor="end" style="font-size:25.9px" transform="rotate(-45 307 1112.2)">shDANCR#1</text>
<text x="372.5" y="1114.5" text-anchor="end" style="font-size:25.9px" transform="rotate(-45 372.5 1114.5)">shDANCR#2</text>
<text x="82.4" y="1090.5" transform="rotate(-90 82.4 1090.5)">Relative gene expression</text>
<text x="117.2" y="1052" transform="rotate(-90 117.2 1052)">(MALAT1/GAPDH)</text>
<text x="671.1" y="753">SW620</text>
<rect x="628.8" y="838.5" width="36.7" height="242.2" fill="#fff" stroke="#000" stroke-width="3"/>
<line x1="708.8" y1="921.6" x2="708.8" y2="912.1" stroke="#000" stroke-width="3"/>
<line x1="698.8" y1="913.6" x2="718.8" y2="913.6" stroke="#000" stroke-width="3"/>
<rect x="690.4" y="923.1" width="36.7" height="157.7" fill="#e84545" stroke="#000" stroke-width="3"/>
<line x1="770.2" y1="945.5" x2="770.2" y2="929.1" stroke="#000" stroke-width="3"/>
<line x1="760.2" y1="930.6" x2="780.2" y2="930.6" stroke="#000" stroke-width="3"/>
<rect x="752" y="947" width="36.5" height="133.8" fill="#33ad35" stroke="#000" stroke-width="3"/>
<text x="701.9" y="917.6" style="font-size:35.5px" font-weight="bold">*</text>
<text x="763.4" y="937.7" style="font-size:35.5px" font-weight="bold">*</text>
<line x1="604.5" y1="786.3" x2="604.5" y2="1082.8" stroke="#000" stroke-width="4"/>
<line x1="602.5" y1="1080.8" x2="813.3" y2="1080.8" stroke="#000" stroke-width="4"/>
<line x1="597.5" y1="1080.8" x2="604.5" y2="1080.8" stroke="#000" stroke-width="4"/>
<text x="562.9" y="1084.4">0</text>
<line x1="597.5" y1="983.3" x2="604.5" y2="983.3" stroke="#000" stroke-width="4"/>
<text x="540.7" y="990.8">0.4</text>
<line x1="597.5" y1="885.8" x2="604.5" y2="885.8" stroke="#000" stroke-width="4"/>
<text x="541.1" y="895.7">0.8</text>
<line x1="597.5" y1="788.3" x2="604.5" y2="788.3" stroke="#000" stroke-width="4"/>
<text x="541.3" y="801.7">1.2</text>
<line x1="647.1" y1="1080.8" x2="647.1" y2="1087.8" stroke="#000" stroke-width="4"/>
<line x1="708.8" y1="1080.8" x2="708.8" y2="1087.8" stroke="#000" stroke-width="4"/>
<line x1="770.2" y1="1080.8" x2="770.2" y2="1087.8" stroke="#000" stroke-width="4"/>
<text x="661.6" y="1114.2" text-anchor="end" style="font-size:25.9px" transform="rotate(-45 661.6 1114.2)">Control</text>
<text x="731" y="1112.2" text-anchor="end" style="font-size:25.9px" transform="rotate(-45 731 1112.2)">shDANCR#1</text>
<text x="792.5" y="1114.5" text-anchor="end" style="font-size:25.9px" transform="rotate(-45 792.5 1114.5)">shDANCR#2</text>
<text x="487.4" y="1090.5" transform="rotate(-90 487.4 1090.5)">Relative gene expression</text>
<text x="522.2" y="1052" transform="rotate(-90 522.2 1052)">(MALAT1/GAPDH)</text>
<text x="1096.5" y="753">HT-29</text>
<rect x="1041.2" y="838.7" width="36" height="244.6" fill="#fff" stroke="#000" stroke-width="3"/>
<line x1="1120.8" y1="929.3" x2="1120.8" y2="923.6" stroke="#000" stroke-width="3"/>
<line x1="1110.8" y1="925.1" x2="1130.8" y2="925.1" stroke="#000" stroke-width="3"/>
<rect x="1102.8" y="930.8" width="36" height="152.5" fill="#e84545" stroke="#000" stroke-width="3"/>
<line x1="1182.4" y1="945.1" x2="1182.4" y2="940.4" stroke="#000" stroke-width="3"/>
<line x1="1172.4" y1="941.9" x2="1192.4" y2="941.9" stroke="#000" stroke-width="3"/>
<rect x="1164.4" y="946.6" width="36" height="136.7" fill="#33ad35" stroke="#000" stroke-width="3"/>
<text x="1113.9" y="925.2" style="font-size:35.5px" font-weight="bold">*</text>
<text x="1175.5" y="945.2" style="font-size:35.5px" font-weight="bold">*</text>
<line x1="1017.1" y1="786" x2="1017.1" y2="1085.3" stroke="#000" stroke-width="4"/>
<line x1="1015.1" y1="1083.3" x2="1225.8" y2="1083.3" stroke="#000" stroke-width="4"/>
<line x1="1010.1" y1="1083.3" x2="1017.1" y2="1083.3" stroke="#000" stroke-width="4"/>
<text x="978.4" y="1086.9">0</text>
<line x1="1010.1" y1="984.9" x2="1017.1" y2="984.9" stroke="#000" stroke-width="4"/>
<text x="956.2" y="992.4">0.4</text>
<line x1="1010.1" y1="886.4" x2="1017.1" y2="886.4" stroke="#000" stroke-width="4"/>
<text x="956.6" y="896.4">0.8</text>
<line x1="1010.1" y1="788" x2="1017.1" y2="788" stroke="#000" stroke-width="4"/>
<text x="956.8" y="801.4">1.2</text>
<line x1="1059.2" y1="1083.3" x2="1059.2" y2="1090.3" stroke="#000" stroke-width="4"/>
<line x1="1120.8" y1="1083.3" x2="1120.8" y2="1090.3" stroke="#000" stroke-width="4"/>
<line x1="1182.4" y1="1083.3" x2="1182.4" y2="1090.3" stroke="#000" stroke-width="4"/>
<text x="1067.3" y="1114.2" text-anchor="end" style="font-size:25.9px" transform="rotate(-45 1067.3 1114.2)">Control</text>
<text x="1135.3" y="1112.2" text-anchor="end" style="font-size:25.9px" transform="rotate(-45 1135.3 1112.2)">shDANCR#1</text>
<text x="1200.8" y="1114.5" text-anchor="end" style="font-size:25.9px" transform="rotate(-45 1200.8 1114.5)">shDANCR#2</text>
<text x="907.3" y="1090.5" transform="rotate(-90 907.3 1090.5)">Relative gene expression</text>
<text x="942.5" y="1052" transform="rotate(-90 942.5 1052)">(MALAT1/GAPDH)</text>
<text x="1361.2" y="717" style="font-size:43.5px">C</text>
<rect x="1533.5" y="851.8" width="37.3" height="227.5" fill="none" stroke="#000" stroke-width="3"/>
<line x1="1552.2" y1="820.1" x2="1552.2" y2="880" stroke="#000" stroke-width="2"/>
<line x1="1542.2" y1="820.1" x2="1562.2" y2="820.1" stroke="#000" stroke-width="2"/>
<line x1="1542.2" y1="880" x2="1562.2" y2="880" stroke="#000" stroke-width="2"/>
<rect x="1596.8" y="922.2" width="36.6" height="157.1" fill="none" stroke="#33ad34" stroke-width="3"/>
<line x1="1615.1" y1="895.6" x2="1615.1" y2="942.5" stroke="#33ad34" stroke-width="2"/>
<line x1="1605.1" y1="895.6" x2="1625.1" y2="895.6" stroke="#33ad34" stroke-width="2"/>
<line x1="1605.1" y1="942.5" x2="1625.1" y2="942.5" stroke="#33ad34" stroke-width="2"/>
<rect x="1659.4" y="986" width="36.5" height="93.3" fill="none" stroke="#e84545" stroke-width="3"/>
<line x1="1677.7" y1="945.2" x2="1677.7" y2="1021.9" stroke="#e84545" stroke-width="2"/>
<line x1="1667.7" y1="945.2" x2="1687.7" y2="945.2" stroke="#e84545" stroke-width="2"/>
<line x1="1667.7" y1="1021.9" x2="1687.7" y2="1021.9" stroke="#e84545" stroke-width="2"/>
<circle cx="1541.4" cy="813.4" r="4.9" fill="#000"/>
<circle cx="1562.9" cy="813.4" r="4.9" fill="#000"/>
<circle cx="1552.2" cy="837.1" r="4.9" fill="#000"/>
<circle cx="1541.4" cy="854.3" r="4.9" fill="#000"/>
<circle cx="1562.9" cy="864.4" r="4.9" fill="#000"/>
<circle cx="1541.4" cy="882.2" r="4.9" fill="#000"/>
<circle cx="1562.9" cy="883.8" r="4.9" fill="#000"/>
<rect x="1596.3" y="898.4" width="9.2" height="9.2" fill="#33ad34"/>
<rect x="1610.1" y="895.5" width="9.2" height="9.2" fill="#33ad34"/>
<rect x="1624.7" y="889.5" width="9.2" height="9.2" fill="#33ad34"/>
<rect x="1610.1" y="912.7" width="9.2" height="9.2" fill="#33ad34"/>
<rect x="1603" y="920.1" width="9.2" height="9.2" fill="#33ad34"/>
<rect x="1617.3" y="929.7" width="9.2" height="9.2" fill="#33ad34"/>
<rect x="1610.1" y="955.4" width="9.2" height="9.2" fill="#33ad34"/>
<polygon points="1670.6,940.4 1675.6,949.4 1665.6,949.4" fill="#e84545"/>
<polygon points="1684.5,940.4 1689.5,949.4 1679.5,949.4" fill="#e84545"/>
<polygon points="1670.6,955 1675.6,964 1665.6,964" fill="#e84545"/>
<polygon points="1684.5,960.1 1689.5,969.1 1679.5,969.1" fill="#e84545"/>
<polygon points="1663.5,1015.3 1668.5,1024.3 1658.5,1024.3" fill="#e84545"/>
<polygon points="1677.3,1016.4 1682.3,1025.4 1672.3,1025.4" fill="#e84545"/>
<polygon points="1691.8,1028 1696.8,1037 1686.8,1037" fill="#e84545"/>
<line x1="1510.8" y1="764" x2="1510.8" y2="1080.3" stroke="#000" stroke-width="5"/>
<line x1="1508.3" y1="1077.8" x2="1721" y2="1077.8" stroke="#000" stroke-width="5"/>
<line x1="1503" y1="1077.8" x2="1510.8" y2="1077.8" stroke="#000" stroke-width="5"/>
<text x="1456.7" y="1083.4">0</text>
<line x1="1503" y1="973.9" x2="1510.8" y2="973.9" stroke="#000" stroke-width="5"/>
<text x="1445.7" y="982.3">0.5</text>
<line x1="1503" y1="870" x2="1510.8" y2="870" stroke="#000" stroke-width="5"/>
<text x="1445.2" y="881.8">1.0</text>
<line x1="1503" y1="766.1" x2="1510.8" y2="766.1" stroke="#000" stroke-width="5"/>
<text x="1445.3" y="779.4">1.5</text>
<line x1="1551.7" y1="1077.8" x2="1551.7" y2="1085.8" stroke="#000" stroke-width="5"/>
<line x1="1614.7" y1="1077.8" x2="1614.7" y2="1085.8" stroke="#000" stroke-width="5"/>
<line x1="1677.3" y1="1077.8" x2="1677.3" y2="1085.8" stroke="#000" stroke-width="5"/>
<text x="1557.7" y="1111.3" text-anchor="end" style="font-size:25.9px" transform="rotate(-45 1557.7 1111.3)">Control</text>
<text x="1626.1" y="1109.3" text-anchor="end" style="font-size:25.9px" transform="rotate(-45 1626.1 1109.3)">shDANCR#1</text>
<text x="1691" y="1111.1" text-anchor="end" style="font-size:25.9px" transform="rotate(-45 1691 1111.1)">shDANCR#2</text>
<polyline points="1550.4,805.1 1550.4,788.8 1631.5,788.8 1631.5,805.1" fill="none" stroke="#000" stroke-width="2" stroke-linejoin="round"/>
<text x="1582.8" y="796.1" style="font-size:35.5px" font-weight="bold">*</text>
<polyline points="1550.4,772 1550.4,757.8 1697,757.8 1697,772" fill="none" stroke="#000" stroke-width="2" stroke-linejoin="round"/>
<text x="1617.5" y="766.5" style="font-size:35.5px" font-weight="bold">*</text>
<text x="1400.5" y="1072" transform="rotate(-90 1400.5 1072)">Relative gene expression</text>
<text x="1435.6" y="1032.4" transform="rotate(-90 1435.6 1032.4)">(MALAT1/GAPDH)</text>
<text x="0.2" y="1326.9" style="font-size:43.5px">D</text>
<text x="378.9" y="1318.5">HCT116</text>
<line x1="331.8" y1="1486" x2="331.8" y2="1466.4" stroke="#e84545" stroke-width="2.6"/>
<line x1="326.3" y1="1466.4" x2="337.3" y2="1466.4" stroke="#e84545" stroke-width="2.6"/>
<line x1="326.3" y1="1486" x2="337.3" y2="1486" stroke="#e84545" stroke-width="2.6"/>
<line x1="418" y1="1505.5" x2="418" y2="1480.9" stroke="#e84545" stroke-width="2.6"/>
<line x1="412.5" y1="1480.9" x2="423.5" y2="1480.9" stroke="#e84545" stroke-width="2.6"/>
<line x1="412.5" y1="1505.5" x2="423.5" y2="1505.5" stroke="#e84545" stroke-width="2.6"/>
<line x1="591.7" y1="1530.5" x2="591.7" y2="1520.7" stroke="#e84545" stroke-width="2.6"/>
<line x1="586.2" y1="1520.7" x2="597.2" y2="1520.7" stroke="#e84545" stroke-width="2.6"/>
<line x1="586.2" y1="1530.5" x2="597.2" y2="1530.5" stroke="#e84545" stroke-width="2.6"/>
<polyline points="245.6,1386.7 331.8,1476.2 418,1493.2 504.5,1526.9 591.7,1525.6" fill="none" stroke="#e84545" stroke-width="2.4" stroke-linejoin="round"/>
<polygon points="245.6,1380.8 250.9,1391.8 240.3,1391.8" fill="#e84545"/>
<polygon points="331.8,1470.3 337.1,1481.3 326.5,1481.3" fill="#e84545"/>
<polygon points="418,1487.3 423.3,1498.2 412.7,1498.2" fill="#e84545"/>
<polygon points="504.5,1521 509.8,1531.9 499.2,1531.9" fill="#e84545"/>
<polygon points="591.7,1519.7 597,1530.7 586.4,1530.7" fill="#e84545"/>
<line x1="331.8" y1="1482.8" x2="331.8" y2="1463.2" stroke="#33ad34" stroke-width="2.6"/>
<line x1="326.3" y1="1463.2" x2="337.3" y2="1463.2" stroke="#33ad34" stroke-width="2.6"/>
<line x1="326.3" y1="1482.8" x2="337.3" y2="1482.8" stroke="#33ad34" stroke-width="2.6"/>
<line x1="418" y1="1501.5" x2="418" y2="1479.9" stroke="#33ad34" stroke-width="2.6"/>
<line x1="412.5" y1="1479.9" x2="423.5" y2="1479.9" stroke="#33ad34" stroke-width="2.6"/>
<line x1="412.5" y1="1501.5" x2="423.5" y2="1501.5" stroke="#33ad34" stroke-width="2.6"/>
<line x1="591.7" y1="1546.5" x2="591.7" y2="1531.8" stroke="#33ad34" stroke-width="2.6"/>
<line x1="586.2" y1="1531.8" x2="597.2" y2="1531.8" stroke="#33ad34" stroke-width="2.6"/>
<line x1="586.2" y1="1546.5" x2="597.2" y2="1546.5" stroke="#33ad34" stroke-width="2.6"/>
<polyline points="245.6,1386.7 331.8,1473 418,1490.7 504.5,1545.3 591.7,1539.2" fill="none" stroke="#33ad34" stroke-width="3" stroke-linejoin="round"/>
<rect x="240.4" y="1381.4" width="10.5" height="10.5" fill="#33ad34"/>
<rect x="326.6" y="1467.8" width="10.5" height="10.5" fill="#33ad34"/>
<rect x="412.8" y="1485.5" width="10.5" height="10.5" fill="#33ad34"/>
<rect x="499.3" y="1540.1" width="10.5" height="10.5" fill="#33ad34"/>
<rect x="586.5" y="1533.9" width="10.5" height="10.5" fill="#33ad34"/>
<line x1="418" y1="1424.1" x2="418" y2="1409.8" stroke="#000" stroke-width="2.6"/>
<line x1="412.5" y1="1409.8" x2="423.5" y2="1409.8" stroke="#000" stroke-width="2.6"/>
<line x1="412.5" y1="1424.1" x2="423.5" y2="1424.1" stroke="#000" stroke-width="2.6"/>
<line x1="504.5" y1="1457.5" x2="504.5" y2="1429" stroke="#000" stroke-width="2.6"/>
<line x1="499" y1="1429" x2="510" y2="1429" stroke="#000" stroke-width="2.6"/>
<line x1="499" y1="1457.5" x2="510" y2="1457.5" stroke="#000" stroke-width="2.6"/>
<line x1="591.7" y1="1493.9" x2="591.7" y2="1466.4" stroke="#000" stroke-width="2.6"/>
<line x1="586.2" y1="1466.4" x2="597.2" y2="1466.4" stroke="#000" stroke-width="2.6"/>
<line x1="586.2" y1="1493.9" x2="597.2" y2="1493.9" stroke="#000" stroke-width="2.6"/>
<polyline points="245.6,1386.7 331.8,1404.9 418,1416.9 504.5,1443.2 591.7,1480.1" fill="none" stroke="#000" stroke-width="2.9" stroke-linejoin="round"/>
<circle cx="245.6" cy="1386.7" r="5.1" fill="#000"/>
<circle cx="331.8" cy="1404.9" r="5.1" fill="#000"/>
<circle cx="418" cy="1416.9" r="5.1" fill="#000"/>
<circle cx="504.5" cy="1443.2" r="5.1" fill="#000"/>
<circle cx="591.7" cy="1480.1" r="5.1" fill="#000"/>
<text x="325.6" y="1467.1" style="font-size:35.5px" font-weight="bold">*</text>
<text x="323.9" y="1515.1" style="font-size:35.5px" font-weight="bold">*</text>
<text x="411.1" y="1483.9" style="font-size:35.5px" font-weight="bold">*</text>
<text x="410.4" y="1539.2" style="font-size:35.5px" font-weight="bold">*</text>
<text x="499.1" y="1525.7" style="font-size:35.5px" font-weight="bold">*</text>
<text x="496.9" y="1582.7" style="font-size:35.5px" font-weight="bold">*</text>
<text x="585.8" y="1527.5" style="font-size:35.5px" font-weight="bold">*</text>
<text x="584.7" y="1581.1" style="font-size:35.5px" font-weight="bold">*</text>
<line x1="245.6" y1="1335" x2="245.6" y2="1642.6" stroke="#000" stroke-width="5"/>
<line x1="243.6" y1="1632.6" x2="594.2" y2="1632.6" stroke="#000" stroke-width="5"/>
<line x1="233.6" y1="1632.6" x2="245.6" y2="1632.6" stroke="#000" stroke-width="5"/>
<text x="183.6" y="1641.6">0.0</text>
<line x1="233.6" y1="1534.2" x2="245.6" y2="1534.2" stroke="#000" stroke-width="5"/>
<text x="183.4" y="1543.7">0.4</text>
<line x1="233.6" y1="1435.9" x2="245.6" y2="1435.9" stroke="#000" stroke-width="5"/>
<text x="183.8" y="1446.4">0.8</text>
<line x1="233.6" y1="1337.5" x2="245.6" y2="1337.5" stroke="#000" stroke-width="5"/>
<text x="184" y="1351.7">1.2</text>
<line x1="245.6" y1="1632.6" x2="245.6" y2="1642.6" stroke="#000" stroke-width="5"/>
<text x="236.3" y="1671.5">0</text>
<line x1="331.8" y1="1632.6" x2="331.8" y2="1642.6" stroke="#000" stroke-width="5"/>
<text x="322.7" y="1671.5">3</text>
<line x1="418" y1="1632.6" x2="418" y2="1642.6" stroke="#000" stroke-width="5"/>
<text x="408.3" y="1671.5">6</text>
<line x1="504.5" y1="1632.6" x2="504.5" y2="1642.6" stroke="#000" stroke-width="5"/>
<text x="495" y="1671.5">9</text>
<line x1="591.7" y1="1632.6" x2="591.7" y2="1642.6" stroke="#000" stroke-width="5"/>
<text x="573.4" y="1671.7">12</text>
<text x="349.7" y="1705.7" style="font-size:26.5px">Time (hours)</text>
<text x="160" y="1655.4" transform="rotate(-90 160 1655.4)">Relative MALAT1 expression</text>
<line x1="656" y1="1471" x2="688.9" y2="1471" stroke="#e84545" stroke-width="3.4"/>
<polygon points="672.1,1463.8 678.6,1477.2 665.6,1477.2" fill="#e84545"/>
<text x="714" y="1477.8">shDANCR#2</text>
<line x1="656" y1="1428.5" x2="688.9" y2="1428.5" stroke="#33ad34" stroke-width="3.4"/>
<rect x="665.7" y="1422.1" width="12.8" height="12.8" fill="#33ad34"/>
<text x="714" y="1437.6">shDANCR#1</text>
<line x1="656" y1="1387.3" x2="688.9" y2="1387.3" stroke="#000" stroke-width="3.4"/>
<circle cx="672.1" cy="1387.3" r="6.2" fill="#000"/>
<text x="713.4" y="1397.3">Control</text>
<text x="1228.2" y="1318.6">HCT116</text>
<line x1="1265.8" y1="1538.5" x2="1265.8" y2="1519.1" stroke="#e84545" stroke-width="2.6"/>
<line x1="1260.3" y1="1519.1" x2="1271.3" y2="1519.1" stroke="#e84545" stroke-width="2.6"/>
<line x1="1260.3" y1="1538.5" x2="1271.3" y2="1538.5" stroke="#e84545" stroke-width="2.6"/>
<polyline points="1095.8,1390.3 1180.6,1499.6 1265.8,1528.8 1350.6,1543.3 1436.1,1571.1" fill="none" stroke="#e84545" stroke-width="2.4" stroke-linejoin="round"/>
<polygon points="1095.8,1384.4 1101.1,1395.4 1090.5,1395.4" fill="#e84545"/>
<polygon points="1180.6,1493.7 1185.9,1504.7 1175.3,1504.7" fill="#e84545"/>
<polygon points="1265.8,1522.9 1271.1,1533.9 1260.5,1533.9" fill="#e84545"/>
<polygon points="1350.6,1537.4 1355.9,1548.4 1345.3,1548.4" fill="#e84545"/>
<polygon points="1436.1,1565.2 1441.4,1576.2 1430.8,1576.2" fill="#e84545"/>
<line x1="1180.6" y1="1483.4" x2="1180.6" y2="1464" stroke="#33ad34" stroke-width="2.6"/>
<line x1="1175.1" y1="1464" x2="1186.1" y2="1464" stroke="#33ad34" stroke-width="2.6"/>
<line x1="1175.1" y1="1483.4" x2="1186.1" y2="1483.4" stroke="#33ad34" stroke-width="2.6"/>
<line x1="1265.8" y1="1527.8" x2="1265.8" y2="1503.7" stroke="#33ad34" stroke-width="2.6"/>
<line x1="1260.3" y1="1503.7" x2="1271.3" y2="1503.7" stroke="#33ad34" stroke-width="2.6"/>
<line x1="1260.3" y1="1527.8" x2="1271.3" y2="1527.8" stroke="#33ad34" stroke-width="2.6"/>
<polyline points="1095.8,1390.3 1180.6,1473.7 1265.8,1515.8 1350.6,1538 1436.1,1567.7" fill="none" stroke="#33ad34" stroke-width="3" stroke-linejoin="round"/>
<rect x="1090.6" y="1385.1" width="10.5" height="10.5" fill="#33ad34"/>
<rect x="1175.4" y="1468.5" width="10.5" height="10.5" fill="#33ad34"/>
<rect x="1260.6" y="1510.5" width="10.5" height="10.5" fill="#33ad34"/>
<rect x="1345.4" y="1532.7" width="10.5" height="10.5" fill="#33ad34"/>
<rect x="1430.9" y="1562.5" width="10.5" height="10.5" fill="#33ad34"/>
<line x1="1180.6" y1="1493.5" x2="1180.6" y2="1479" stroke="#000" stroke-width="2.6"/>
<line x1="1175.1" y1="1479" x2="1186.1" y2="1479" stroke="#000" stroke-width="2.6"/>
<line x1="1175.1" y1="1493.5" x2="1186.1" y2="1493.5" stroke="#000" stroke-width="2.6"/>
<line x1="1265.8" y1="1528.3" x2="1265.8" y2="1509" stroke="#000" stroke-width="2.6"/>
<line x1="1260.3" y1="1509" x2="1271.3" y2="1509" stroke="#000" stroke-width="2.6"/>
<line x1="1260.3" y1="1528.3" x2="1271.3" y2="1528.3" stroke="#000" stroke-width="2.6"/>
<line x1="1350.6" y1="1546.2" x2="1350.6" y2="1526.9" stroke="#000" stroke-width="2.6"/>
<line x1="1345.1" y1="1526.9" x2="1356.1" y2="1526.9" stroke="#000" stroke-width="2.6"/>
<line x1="1345.1" y1="1546.2" x2="1356.1" y2="1546.2" stroke="#000" stroke-width="2.6"/>
<line x1="1436.1" y1="1559" x2="1436.1" y2="1550.8" stroke="#000" stroke-width="2.6"/>
<line x1="1430.6" y1="1550.8" x2="1441.6" y2="1550.8" stroke="#000" stroke-width="2.6"/>
<line x1="1430.6" y1="1559" x2="1441.6" y2="1559" stroke="#000" stroke-width="2.6"/>
<polyline points="1095.8,1390.3 1180.6,1486.3 1265.8,1518.7 1350.6,1536.5 1436.1,1554.9" fill="none" stroke="#000" stroke-width="2.9" stroke-linejoin="round"/>
<circle cx="1095.8" cy="1390.3" r="5.1" fill="#000"/>
<circle cx="1180.6" cy="1486.3" r="5.1" fill="#000"/>
<circle cx="1265.8" cy="1518.7" r="5.1" fill="#000"/>
<circle cx="1350.6" cy="1536.5" r="5.1" fill="#000"/>
<circle cx="1436.1" cy="1554.9" r="5.1" fill="#000"/>
<line x1="1095.8" y1="1339.5" x2="1095.8" y2="1642" stroke="#000" stroke-width="5"/>
<line x1="1093.8" y1="1632" x2="1438.6" y2="1632" stroke="#000" stroke-width="5"/>
<line x1="1083.8" y1="1632" x2="1095.8" y2="1632" stroke="#000" stroke-width="5"/>
<text x="1032.4" y="1641">0.0</text>
<line x1="1083.8" y1="1535.4" x2="1095.8" y2="1535.4" stroke="#000" stroke-width="5"/>
<text x="1032.2" y="1544.9">0.4</text>
<line x1="1083.8" y1="1438.6" x2="1095.8" y2="1438.6" stroke="#000" stroke-width="5"/>
<text x="1032.6" y="1449.1">0.8</text>
<line x1="1083.8" y1="1342" x2="1095.8" y2="1342" stroke="#000" stroke-width="5"/>
<text x="1032.8" y="1356.2">1.2</text>
<line x1="1095.8" y1="1632" x2="1095.8" y2="1642" stroke="#000" stroke-width="5"/>
<text x="1091.9" y="1671.2">0</text>
<line x1="1180.6" y1="1632" x2="1180.6" y2="1642" stroke="#000" stroke-width="5"/>
<text x="1176.3" y="1671.2">3</text>
<line x1="1265.8" y1="1632" x2="1265.8" y2="1642" stroke="#000" stroke-width="5"/>
<text x="1259.4" y="1671.2">6</text>
<line x1="1350.6" y1="1632" x2="1350.6" y2="1642" stroke="#000" stroke-width="5"/>
<text x="1343.8" y="1671.2">9</text>
<line x1="1436.1" y1="1632" x2="1436.1" y2="1642" stroke="#000" stroke-width="5"/>
<text x="1419.2" y="1671.4">12</text>
<text x="1200.8" y="1704" style="font-size:26.6px">Time (hours)</text>
<text x="1007.5" y="1648.2" transform="rotate(-90 1007.5 1648.2)">Relative PTEN expression</text>
<line x1="1501.1" y1="1470" x2="1535" y2="1470" stroke="#e84545" stroke-width="3.4"/>
<polygon points="1518,1462.8 1524.5,1476.2 1511.5,1476.2" fill="#e84545"/>
<text x="1559.1" y="1475.7">shDANCR#2</text>
<line x1="1501.1" y1="1427.4" x2="1535" y2="1427.4" stroke="#33ad34" stroke-width="3.4"/>
<rect x="1511.6" y="1421" width="12.8" height="12.8" fill="#33ad34"/>
<text x="1559.1" y="1436.4">shDANCR#1</text>
<line x1="1501.1" y1="1384.9" x2="1535" y2="1384.9" stroke="#000" stroke-width="3.4"/>
<circle cx="1518" cy="1384.9" r="6.2" fill="#000"/>
<text x="1558.5" y="1396.1">Control</text>
<text x="379.6" y="1792">SW620</text>
<line x1="332.3" y1="1945.7" x2="332.3" y2="1929.6" stroke="#e84545" stroke-width="2.6"/>
<line x1="326.8" y1="1929.6" x2="337.8" y2="1929.6" stroke="#e84545" stroke-width="2.6"/>
<line x1="326.8" y1="1945.7" x2="337.8" y2="1945.7" stroke="#e84545" stroke-width="2.6"/>
<line x1="418.5" y1="1995.8" x2="418.5" y2="1966.6" stroke="#e84545" stroke-width="2.6"/>
<line x1="413" y1="1966.6" x2="424" y2="1966.6" stroke="#e84545" stroke-width="2.6"/>
<line x1="413" y1="1995.8" x2="424" y2="1995.8" stroke="#e84545" stroke-width="2.6"/>
<line x1="590.1" y1="2040.3" x2="590.1" y2="2022.8" stroke="#e84545" stroke-width="2.6"/>
<line x1="584.6" y1="2022.8" x2="595.6" y2="2022.8" stroke="#e84545" stroke-width="2.6"/>
<line x1="584.6" y1="2040.3" x2="595.6" y2="2040.3" stroke="#e84545" stroke-width="2.6"/>
<polyline points="246.5,1868.1 332.3,1937.7 418.5,1981.2 505,2027.5 590.1,2031.6" fill="none" stroke="#e84545" stroke-width="2.4" stroke-linejoin="round"/>
<polygon points="246.5,1862.2 251.8,1873.2 241.2,1873.2" fill="#e84545"/>
<polygon points="332.3,1931.8 337.6,1942.7 327,1942.7" fill="#e84545"/>
<polygon points="418.5,1975.3 423.8,1986.3 413.2,1986.3" fill="#e84545"/>
<polygon points="505,2021.5 510.3,2032.5 499.7,2032.5" fill="#e84545"/>
<polygon points="590.1,2025.7 595.4,2036.7 584.8,2036.7" fill="#e84545"/>
<line x1="332.3" y1="1924" x2="332.3" y2="1904.6" stroke="#33ad34" stroke-width="2.6"/>
<line x1="326.8" y1="1904.6" x2="337.8" y2="1904.6" stroke="#33ad34" stroke-width="2.6"/>
<line x1="326.8" y1="1924" x2="337.8" y2="1924" stroke="#33ad34" stroke-width="2.6"/>
<line x1="418.5" y1="1999.7" x2="418.5" y2="1968.1" stroke="#33ad34" stroke-width="2.6"/>
<line x1="413" y1="1968.1" x2="424" y2="1968.1" stroke="#33ad34" stroke-width="2.6"/>
<line x1="413" y1="1999.7" x2="424" y2="1999.7" stroke="#33ad34" stroke-width="2.6"/>
<line x1="505" y1="2043.5" x2="505" y2="2014.3" stroke="#33ad34" stroke-width="2.6"/>
<line x1="499.5" y1="2014.3" x2="510.5" y2="2014.3" stroke="#33ad34" stroke-width="2.6"/>
<line x1="499.5" y1="2043.5" x2="510.5" y2="2043.5" stroke="#33ad34" stroke-width="2.6"/>
<line x1="590.1" y1="2039.6" x2="590.1" y2="2027" stroke="#33ad34" stroke-width="2.6"/>
<line x1="584.6" y1="2027" x2="595.6" y2="2027" stroke="#33ad34" stroke-width="2.6"/>
<line x1="584.6" y1="2039.6" x2="595.6" y2="2039.6" stroke="#33ad34" stroke-width="2.6"/>
<polyline points="246.5,1868.1 332.3,1914.3 418.5,1983.9 505,2028.9 590.1,2033.3" fill="none" stroke="#33ad34" stroke-width="3" stroke-linejoin="round"/>
<rect x="241.3" y="1862.8" width="10.5" height="10.5" fill="#33ad34"/>
<rect x="327.1" y="1909.1" width="10.5" height="10.5" fill="#33ad34"/>
<rect x="413.3" y="1978.6" width="10.5" height="10.5" fill="#33ad34"/>
<rect x="499.8" y="2023.7" width="10.5" height="10.5" fill="#33ad34"/>
<rect x="584.9" y="2028" width="10.5" height="10.5" fill="#33ad34"/>
<line x1="332.3" y1="1899" x2="332.3" y2="1868.8" stroke="#000" stroke-width="2.6"/>
<line x1="326.8" y1="1868.8" x2="337.8" y2="1868.8" stroke="#000" stroke-width="2.6"/>
<line x1="326.8" y1="1899" x2="337.8" y2="1899" stroke="#000" stroke-width="2.6"/>
<line x1="418.5" y1="1923.5" x2="418.5" y2="1916.2" stroke="#000" stroke-width="2.6"/>
<line x1="413" y1="1916.2" x2="424" y2="1916.2" stroke="#000" stroke-width="2.6"/>
<line x1="413" y1="1923.5" x2="424" y2="1923.5" stroke="#000" stroke-width="2.6"/>
<line x1="505" y1="1981.9" x2="505" y2="1953.7" stroke="#000" stroke-width="2.6"/>
<line x1="499.5" y1="1953.7" x2="510.5" y2="1953.7" stroke="#000" stroke-width="2.6"/>
<line x1="499.5" y1="1981.9" x2="510.5" y2="1981.9" stroke="#000" stroke-width="2.6"/>
<line x1="590.1" y1="2008.2" x2="590.1" y2="1971.2" stroke="#000" stroke-width="2.6"/>
<line x1="584.6" y1="1971.2" x2="595.6" y2="1971.2" stroke="#000" stroke-width="2.6"/>
<line x1="584.6" y1="2008.2" x2="595.6" y2="2008.2" stroke="#000" stroke-width="2.6"/>
<polyline points="246.5,1868.1 332.3,1883.9 418.5,1919.9 505,1967.8 590.1,1989.7" fill="none" stroke="#000" stroke-width="2.9" stroke-linejoin="round"/>
<circle cx="246.5" cy="1868.1" r="5.1" fill="#000"/>
<circle cx="332.3" cy="1883.9" r="5.1" fill="#000"/>
<circle cx="418.5" cy="1919.9" r="5.1" fill="#000"/>
<circle cx="505" cy="1967.8" r="5.1" fill="#000"/>
<circle cx="590.1" cy="1989.7" r="5.1" fill="#000"/>
<text x="324.4" y="1975.7" style="font-size:35.5px" font-weight="bold">*</text>
<text x="412.2" y="1972.4" style="font-size:35.5px" font-weight="bold">*</text>
<text x="411.6" y="2031" style="font-size:35.5px" font-weight="bold">*</text>
<text x="497.7" y="2019.6" style="font-size:35.5px" font-weight="bold">*</text>
<text x="497.7" y="2076.3" style="font-size:35.5px" font-weight="bold">*</text>
<text x="583.1" y="2036.1" style="font-size:35.5px" font-weight="bold">*</text>
<text x="583.1" y="2078" style="font-size:35.5px" font-weight="bold">*</text>
<line x1="246.5" y1="1816.9" x2="246.5" y2="2121.4" stroke="#000" stroke-width="5"/>
<line x1="244.5" y1="2111.4" x2="592.6" y2="2111.4" stroke="#000" stroke-width="5"/>
<line x1="234.5" y1="2111.4" x2="246.5" y2="2111.4" stroke="#000" stroke-width="5"/>
<text x="185.8" y="2120.4">0.0</text>
<line x1="234.5" y1="2014.2" x2="246.5" y2="2014.2" stroke="#000" stroke-width="5"/>
<text x="185.6" y="2023.7">0.4</text>
<line x1="234.5" y1="1916.7" x2="246.5" y2="1916.7" stroke="#000" stroke-width="5"/>
<text x="186" y="1927.2">0.8</text>
<line x1="234.5" y1="1819.4" x2="246.5" y2="1819.4" stroke="#000" stroke-width="5"/>
<text x="186.2" y="1833.6">1.2</text>
<line x1="246.5" y1="2111.4" x2="246.5" y2="2121.4" stroke="#000" stroke-width="5"/>
<text x="238.5" y="2152.6">0</text>
<line x1="332.3" y1="2111.4" x2="332.3" y2="2121.4" stroke="#000" stroke-width="5"/>
<text x="325.3" y="2152.6">3</text>
<line x1="418.5" y1="2111.4" x2="418.5" y2="2121.4" stroke="#000" stroke-width="5"/>
<text x="411.4" y="2152.6">6</text>
<line x1="505" y1="2111.4" x2="505" y2="2121.4" stroke="#000" stroke-width="5"/>
<text x="497.2" y="2152.6">9</text>
<line x1="590.1" y1="2111.4" x2="590.1" y2="2121.4" stroke="#000" stroke-width="5"/>
<text x="574.5" y="2152.8">12</text>
<text x="351.9" y="2187" style="font-size:26.4px">Time (hours)</text>
<text x="162" y="2131.7" transform="rotate(-90 162 2131.7)">Relative MALAT1 expression</text>
<line x1="661.8" y1="1952.7" x2="695.6" y2="1952.7" stroke="#e84545" stroke-width="3.4"/>
<polygon points="678.5,1945.5 685,1958.9 672,1958.9" fill="#e84545"/>
<text x="720.1" y="1959.1">shDANCR#2</text>
<line x1="661.8" y1="1910.5" x2="695.6" y2="1910.5" stroke="#33ad34" stroke-width="3.4"/>
<rect x="672.1" y="1904.1" width="12.8" height="12.8" fill="#33ad34"/>
<text x="720.1" y="1919.2">shDANCR#1</text>
<line x1="661.8" y1="1868.1" x2="695.6" y2="1868.1" stroke="#000" stroke-width="3.4"/>
<circle cx="678.5" cy="1868.1" r="6.2" fill="#000"/>
<text x="719.5" y="1879">Control</text>
<text x="1229.4" y="1792">SW620</text>
<line x1="1189" y1="1960.5" x2="1189" y2="1900.2" stroke="#e84545" stroke-width="2.6"/>
<line x1="1183.5" y1="1900.2" x2="1194.5" y2="1900.2" stroke="#e84545" stroke-width="2.6"/>
<line x1="1183.5" y1="1960.5" x2="1194.5" y2="1960.5" stroke="#e84545" stroke-width="2.6"/>
<line x1="1273.5" y1="2017" x2="1273.5" y2="1946.9" stroke="#e84545" stroke-width="2.6"/>
<line x1="1268" y1="1946.9" x2="1279" y2="1946.9" stroke="#e84545" stroke-width="2.6"/>
<line x1="1268" y1="2017" x2="1279" y2="2017" stroke="#e84545" stroke-width="2.6"/>
<line x1="1359" y1="2065.2" x2="1359" y2="2008.2" stroke="#e84545" stroke-width="2.6"/>
<line x1="1353.5" y1="2008.2" x2="1364.5" y2="2008.2" stroke="#e84545" stroke-width="2.6"/>
<line x1="1353.5" y1="2065.2" x2="1364.5" y2="2065.2" stroke="#e84545" stroke-width="2.6"/>
<polyline points="1103.5,1868.1 1189,1930.4 1273.5,1981.9 1359,2036.7 1444.5,2041.6" fill="none" stroke="#e84545" stroke-width="2.4" stroke-linejoin="round"/>
<polygon points="1103.5,1862.2 1108.8,1873.2 1098.2,1873.2" fill="#e84545"/>
<polygon points="1189,1924.5 1194.3,1935.4 1183.7,1935.4" fill="#e84545"/>
<polygon points="1273.5,1976 1278.8,1987 1268.2,1987" fill="#e84545"/>
<polygon points="1359,2030.8 1364.3,2041.8 1353.7,2041.8" fill="#e84545"/>
<polygon points="1444.5,2035.7 1449.8,2046.6 1439.2,2046.6" fill="#e84545"/>
<line x1="1189" y1="1957.6" x2="1189" y2="1899.2" stroke="#33ad34" stroke-width="2.6"/>
<line x1="1183.5" y1="1899.2" x2="1194.5" y2="1899.2" stroke="#33ad34" stroke-width="2.6"/>
<line x1="1183.5" y1="1957.6" x2="1194.5" y2="1957.6" stroke="#33ad34" stroke-width="2.6"/>
<line x1="1273.5" y1="2016" x2="1273.5" y2="1943" stroke="#33ad34" stroke-width="2.6"/>
<line x1="1268" y1="1943" x2="1279" y2="1943" stroke="#33ad34" stroke-width="2.6"/>
<line x1="1268" y1="2016" x2="1279" y2="2016" stroke="#33ad34" stroke-width="2.6"/>
<line x1="1359" y1="2058.8" x2="1359" y2="1985.8" stroke="#33ad34" stroke-width="2.6"/>
<line x1="1353.5" y1="1985.8" x2="1364.5" y2="1985.8" stroke="#33ad34" stroke-width="2.6"/>
<line x1="1353.5" y1="2058.8" x2="1364.5" y2="2058.8" stroke="#33ad34" stroke-width="2.6"/>
<line x1="1444.5" y1="2063" x2="1444.5" y2="2026" stroke="#33ad34" stroke-width="2.6"/>
<line x1="1439" y1="2026" x2="1450" y2="2026" stroke="#33ad34" stroke-width="2.6"/>
<line x1="1439" y1="2063" x2="1450" y2="2063" stroke="#33ad34" stroke-width="2.6"/>
<polyline points="1103.5,1868.1 1189,1928.4 1273.5,1979.5 1359,2022.3 1444.5,2044.5" fill="none" stroke="#33ad34" stroke-width="3" stroke-linejoin="round"/>
<rect x="1098.3" y="1862.8" width="10.5" height="10.5" fill="#33ad34"/>
<rect x="1183.8" y="1923.2" width="10.5" height="10.5" fill="#33ad34"/>
<rect x="1268.3" y="1974.3" width="10.5" height="10.5" fill="#33ad34"/>
<rect x="1353.8" y="2017.1" width="10.5" height="10.5" fill="#33ad34"/>
<rect x="1439.3" y="2039.2" width="10.5" height="10.5" fill="#33ad34"/>
<line x1="1189" y1="1953.2" x2="1189" y2="1922.1" stroke="#000" stroke-width="2.6"/>
<line x1="1183.5" y1="1922.1" x2="1194.5" y2="1922.1" stroke="#000" stroke-width="2.6"/>
<line x1="1183.5" y1="1953.2" x2="1194.5" y2="1953.2" stroke="#000" stroke-width="2.6"/>
<line x1="1273.5" y1="1998.7" x2="1273.5" y2="1965.2" stroke="#000" stroke-width="2.6"/>
<line x1="1268" y1="1965.2" x2="1279" y2="1965.2" stroke="#000" stroke-width="2.6"/>
<line x1="1268" y1="1998.7" x2="1279" y2="1998.7" stroke="#000" stroke-width="2.6"/>
<line x1="1359" y1="2045.2" x2="1359" y2="2009.2" stroke="#000" stroke-width="2.6"/>
<line x1="1353.5" y1="2009.2" x2="1364.5" y2="2009.2" stroke="#000" stroke-width="2.6"/>
<line x1="1353.5" y1="2045.2" x2="1364.5" y2="2045.2" stroke="#000" stroke-width="2.6"/>
<line x1="1444.5" y1="2065.9" x2="1444.5" y2="2052.3" stroke="#000" stroke-width="2.6"/>
<line x1="1439" y1="2052.3" x2="1450" y2="2052.3" stroke="#000" stroke-width="2.6"/>
<line x1="1439" y1="2065.9" x2="1450" y2="2065.9" stroke="#000" stroke-width="2.6"/>
<polyline points="1103.5,1868.1 1189,1937.7 1273.5,1981.9 1359,2027.2 1444.5,2059.1" fill="none" stroke="#000" stroke-width="2.9" stroke-linejoin="round"/>
<circle cx="1103.5" cy="1868.1" r="5.1" fill="#000"/>
<circle cx="1189" cy="1937.7" r="5.1" fill="#000"/>
<circle cx="1273.5" cy="1981.9" r="5.1" fill="#000"/>
<circle cx="1359" cy="2027.2" r="5.1" fill="#000"/>
<circle cx="1444.5" cy="2059.1" r="5.1" fill="#000"/>
<line x1="1103.5" y1="1816.9" x2="1103.5" y2="2121.4" stroke="#000" stroke-width="5"/>
<line x1="1101.5" y1="2111.4" x2="1447" y2="2111.4" stroke="#000" stroke-width="5"/>
<line x1="1091.5" y1="2111.4" x2="1103.5" y2="2111.4" stroke="#000" stroke-width="5"/>
<text x="1041.1" y="2120.4">0.0</text>
<line x1="1091.5" y1="2014.2" x2="1103.5" y2="2014.2" stroke="#000" stroke-width="5"/>
<text x="1040.9" y="2023.7">0.4</text>
<line x1="1091.5" y1="1917" x2="1103.5" y2="1917" stroke="#000" stroke-width="5"/>
<text x="1041.3" y="1927.5">0.8</text>
<line x1="1091.5" y1="1819.4" x2="1103.5" y2="1819.4" stroke="#000" stroke-width="5"/>
<text x="1041.5" y="1833.6">1.2</text>
<line x1="1103.5" y1="2111.4" x2="1103.5" y2="2121.4" stroke="#000" stroke-width="5"/>
<text x="1096.9" y="2148.3">0</text>
<line x1="1189" y1="2111.4" x2="1189" y2="2121.4" stroke="#000" stroke-width="5"/>
<text x="1180.8" y="2148.3">3</text>
<line x1="1273.5" y1="2111.4" x2="1273.5" y2="2121.4" stroke="#000" stroke-width="5"/>
<text x="1264.4" y="2148.3">6</text>
<line x1="1359" y1="2111.4" x2="1359" y2="2121.4" stroke="#000" stroke-width="5"/>
<text x="1348.3" y="2148.3">9</text>
<line x1="1444.5" y1="2111.4" x2="1444.5" y2="2121.4" stroke="#000" stroke-width="5"/>
<text x="1425.4" y="2148.5">12</text>
<text x="1205.3" y="2186.6" style="font-size:26.6px">Time (hours)</text>
<text x="1019.5" y="2116.7" transform="rotate(-90 1019.5 2116.7)">Relative PTEN expression</text>
<line x1="1494.6" y1="1953.2" x2="1528.1" y2="1953.2" stroke="#e84545" stroke-width="3.4"/>
<polygon points="1511.3,1946 1517.8,1959.4 1504.8,1959.4" fill="#e84545"/>
<text x="1552.5" y="1959.4">shDANCR#2</text>
<line x1="1494.6" y1="1911" x2="1528.1" y2="1911" stroke="#33ad34" stroke-width="3.4"/>
<rect x="1504.9" y="1904.6" width="12.8" height="12.8" fill="#33ad34"/>
<text x="1552.5" y="1920">shDANCR#1</text>
<line x1="1494.6" y1="1868.6" x2="1528.1" y2="1868.6" stroke="#000" stroke-width="3.4"/>
<circle cx="1511.3" cy="1868.6" r="6.2" fill="#000"/>
<text x="1551.9" y="1879.5">Control</text>
</svg>
</body></html>
